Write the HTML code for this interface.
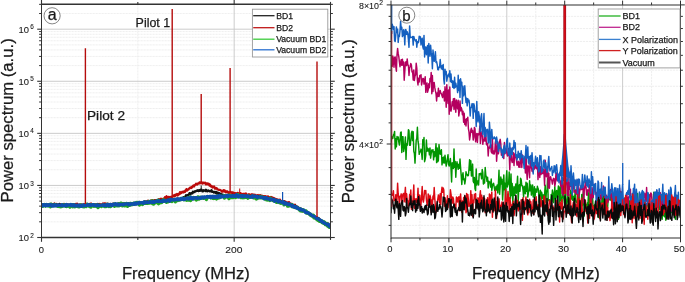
<!DOCTYPE html>
<html><head><meta charset="utf-8"><style>
html,body{margin:0;padding:0;background:#fff;}
svg{display:block;will-change:transform;}
text{font-family:"Liberation Sans", sans-serif;fill:#1a1a1a;stroke:#1a1a1a;stroke-width:0.25px;}
text.s{stroke-width:0.1px;}
</style></head><body>
<svg width="685" height="282" viewBox="0 0 685 282">
<clipPath id="ca"><rect x="41.5" y="4.3" width="289.0" height="233.2"/></clipPath>
<clipPath id="cb"><rect x="391.0" y="4.9" width="289.5" height="233.1"/></clipPath>
<line x1="41.5" x2="330.5" y1="221.82" y2="221.82" stroke="#ebebeb" stroke-width="0.8" stroke-dasharray="2.2,0.8"/>
<line x1="41.5" x2="330.5" y1="212.65" y2="212.65" stroke="#ebebeb" stroke-width="0.8" stroke-dasharray="2.2,0.8"/>
<line x1="41.5" x2="330.5" y1="206.15" y2="206.15" stroke="#ebebeb" stroke-width="0.8" stroke-dasharray="2.2,0.8"/>
<line x1="41.5" x2="330.5" y1="201.10" y2="201.10" stroke="#ebebeb" stroke-width="0.8" stroke-dasharray="2.2,0.8"/>
<line x1="41.5" x2="330.5" y1="196.98" y2="196.98" stroke="#ebebeb" stroke-width="0.8" stroke-dasharray="2.2,0.8"/>
<line x1="41.5" x2="330.5" y1="193.49" y2="193.49" stroke="#ebebeb" stroke-width="0.8" stroke-dasharray="2.2,0.8"/>
<line x1="41.5" x2="330.5" y1="190.47" y2="190.47" stroke="#ebebeb" stroke-width="0.8" stroke-dasharray="2.2,0.8"/>
<line x1="41.5" x2="330.5" y1="187.81" y2="187.81" stroke="#ebebeb" stroke-width="0.8" stroke-dasharray="2.2,0.8"/>
<line x1="41.5" x2="330.5" y1="169.75" y2="169.75" stroke="#ebebeb" stroke-width="0.8" stroke-dasharray="2.2,0.8"/>
<line x1="41.5" x2="330.5" y1="160.58" y2="160.58" stroke="#ebebeb" stroke-width="0.8" stroke-dasharray="2.2,0.8"/>
<line x1="41.5" x2="330.5" y1="154.07" y2="154.07" stroke="#ebebeb" stroke-width="0.8" stroke-dasharray="2.2,0.8"/>
<line x1="41.5" x2="330.5" y1="149.03" y2="149.03" stroke="#ebebeb" stroke-width="0.8" stroke-dasharray="2.2,0.8"/>
<line x1="41.5" x2="330.5" y1="144.90" y2="144.90" stroke="#ebebeb" stroke-width="0.8" stroke-dasharray="2.2,0.8"/>
<line x1="41.5" x2="330.5" y1="141.42" y2="141.42" stroke="#ebebeb" stroke-width="0.8" stroke-dasharray="2.2,0.8"/>
<line x1="41.5" x2="330.5" y1="138.40" y2="138.40" stroke="#ebebeb" stroke-width="0.8" stroke-dasharray="2.2,0.8"/>
<line x1="41.5" x2="330.5" y1="135.73" y2="135.73" stroke="#ebebeb" stroke-width="0.8" stroke-dasharray="2.2,0.8"/>
<line x1="41.5" x2="330.5" y1="117.67" y2="117.67" stroke="#ebebeb" stroke-width="0.8" stroke-dasharray="2.2,0.8"/>
<line x1="41.5" x2="330.5" y1="108.50" y2="108.50" stroke="#ebebeb" stroke-width="0.8" stroke-dasharray="2.2,0.8"/>
<line x1="41.5" x2="330.5" y1="102.00" y2="102.00" stroke="#ebebeb" stroke-width="0.8" stroke-dasharray="2.2,0.8"/>
<line x1="41.5" x2="330.5" y1="96.95" y2="96.95" stroke="#ebebeb" stroke-width="0.8" stroke-dasharray="2.2,0.8"/>
<line x1="41.5" x2="330.5" y1="92.83" y2="92.83" stroke="#ebebeb" stroke-width="0.8" stroke-dasharray="2.2,0.8"/>
<line x1="41.5" x2="330.5" y1="89.34" y2="89.34" stroke="#ebebeb" stroke-width="0.8" stroke-dasharray="2.2,0.8"/>
<line x1="41.5" x2="330.5" y1="86.32" y2="86.32" stroke="#ebebeb" stroke-width="0.8" stroke-dasharray="2.2,0.8"/>
<line x1="41.5" x2="330.5" y1="83.66" y2="83.66" stroke="#ebebeb" stroke-width="0.8" stroke-dasharray="2.2,0.8"/>
<line x1="41.5" x2="330.5" y1="65.60" y2="65.60" stroke="#ebebeb" stroke-width="0.8" stroke-dasharray="2.2,0.8"/>
<line x1="41.5" x2="330.5" y1="56.43" y2="56.43" stroke="#ebebeb" stroke-width="0.8" stroke-dasharray="2.2,0.8"/>
<line x1="41.5" x2="330.5" y1="49.92" y2="49.92" stroke="#ebebeb" stroke-width="0.8" stroke-dasharray="2.2,0.8"/>
<line x1="41.5" x2="330.5" y1="44.88" y2="44.88" stroke="#ebebeb" stroke-width="0.8" stroke-dasharray="2.2,0.8"/>
<line x1="41.5" x2="330.5" y1="40.75" y2="40.75" stroke="#ebebeb" stroke-width="0.8" stroke-dasharray="2.2,0.8"/>
<line x1="41.5" x2="330.5" y1="37.27" y2="37.27" stroke="#ebebeb" stroke-width="0.8" stroke-dasharray="2.2,0.8"/>
<line x1="41.5" x2="330.5" y1="34.25" y2="34.25" stroke="#ebebeb" stroke-width="0.8" stroke-dasharray="2.2,0.8"/>
<line x1="41.5" x2="330.5" y1="31.58" y2="31.58" stroke="#ebebeb" stroke-width="0.8" stroke-dasharray="2.2,0.8"/>
<line x1="41.5" x2="330.5" y1="13.52" y2="13.52" stroke="#ebebeb" stroke-width="0.8" stroke-dasharray="2.2,0.8"/>
<line x1="137.83" x2="137.83" y1="4.3" y2="237.5" stroke="#ebebeb" stroke-width="0.8" stroke-dasharray="2.2,0.8"/>
<line x1="41.5" x2="330.5" y1="185.43" y2="185.43" stroke="#c6c6c6" stroke-width="0.9"/>
<line x1="41.5" x2="330.5" y1="133.35" y2="133.35" stroke="#c6c6c6" stroke-width="0.9"/>
<line x1="41.5" x2="330.5" y1="81.27" y2="81.27" stroke="#c6c6c6" stroke-width="0.9"/>
<line x1="41.5" x2="330.5" y1="29.20" y2="29.20" stroke="#c6c6c6" stroke-width="0.9"/>
<line x1="234.17" x2="234.17" y1="4.3" y2="237.5" stroke="#c6c6c6" stroke-width="0.9"/>
<g clip-path="url(#ca)"><path d="M41.50,205.00 L42.00,205.16 L42.50,204.84 L43.00,204.49 L43.50,204.73 L44.00,204.43 L44.50,205.01 L45.00,205.71 L45.50,204.70 L46.00,204.62 L46.50,205.23 L47.00,205.15 L47.50,205.01 L48.00,204.44 L48.50,204.93 L49.00,205.32 L49.50,204.20 L50.00,204.68 L50.50,203.88 L51.00,204.21 L51.50,203.91 L52.00,204.79 L52.50,204.22 L53.00,205.06 L53.50,204.99 L54.00,204.80 L54.50,203.51 L55.00,204.60 L55.50,204.86 L56.00,204.95 L56.50,204.04 L57.00,204.62 L57.50,204.34 L58.00,204.43 L58.50,205.45 L59.00,204.42 L59.50,204.84 L60.00,205.34 L60.50,204.53 L61.00,204.79 L61.50,204.91 L62.00,204.88 L62.50,204.16 L63.00,204.87 L63.50,205.58 L64.00,203.97 L64.50,205.29 L65.00,204.88 L65.50,204.46 L66.00,205.91 L66.50,205.23 L67.00,204.14 L67.50,204.84 L68.00,205.11 L68.50,204.69 L69.00,205.16 L69.50,204.75 L70.00,205.15 L70.50,205.57 L71.00,204.40 L71.50,204.88 L72.00,204.51 L72.50,204.83 L73.00,204.10 L73.50,204.43 L74.00,204.64 L74.50,205.24 L75.00,205.37 L75.50,204.01 L76.00,204.30 L76.50,205.09 L77.00,203.63 L77.50,204.47 L78.00,204.67 L78.50,205.41 L79.00,205.09 L79.50,204.53 L80.00,204.50 L80.50,204.56 L81.00,205.53 L81.50,204.46 L82.00,204.52 L82.50,204.88 L83.00,204.61 L83.50,204.57 L84.00,204.06 L84.50,204.66 L85.00,204.42 L85.50,205.30 L86.00,205.02 L86.50,204.64 L87.00,205.02 L87.50,204.46 L88.00,205.22 L88.50,204.64 L89.00,204.96 L89.50,203.92 L90.00,204.82 L90.50,203.70 L91.00,203.50 L91.50,204.45 L92.00,204.12 L92.50,204.70 L93.00,205.84 L93.50,204.14 L94.00,204.25 L94.50,204.71 L95.00,204.86 L95.50,204.49 L96.00,204.47 L96.50,204.96 L97.00,204.86 L97.50,204.00 L98.00,204.52 L98.50,204.58 L99.00,203.98 L99.50,204.70 L100.00,204.08 L100.50,205.08 L101.00,204.65 L101.50,204.59 L102.00,204.21 L102.50,204.47 L103.00,203.43 L103.50,203.90 L104.00,204.72 L104.50,203.35 L105.00,204.98 L105.50,203.55 L106.00,204.92 L106.50,204.04 L107.00,204.93 L107.50,204.57 L108.00,203.65 L108.50,205.17 L109.00,205.28 L109.50,204.44 L110.00,204.33 L110.50,204.38 L111.00,203.93 L111.50,205.07 L112.00,204.16 L112.50,204.43 L113.00,204.02 L113.50,204.11 L114.00,203.74 L114.50,205.13 L115.00,204.35 L115.50,204.97 L116.00,204.44 L116.50,204.04 L117.00,204.24 L117.50,204.11 L118.00,204.42 L118.50,204.20 L119.00,204.24 L119.50,203.65 L120.00,203.96 L120.50,205.27 L121.00,203.96 L121.50,203.72 L122.00,204.45 L122.50,205.00 L123.00,203.39 L123.50,204.04 L124.00,203.77 L124.50,203.12 L125.00,204.45 L125.50,204.00 L126.00,204.02 L126.50,203.53 L127.00,204.16 L127.50,203.58 L128.00,203.76 L128.50,203.20 L129.00,203.10 L129.50,204.47 L130.00,203.42 L130.50,203.83 L131.00,203.61 L131.50,203.35 L132.00,203.28 L132.50,203.87 L133.00,203.32 L133.50,203.37 L134.00,203.43 L134.50,204.03 L135.00,203.72 L135.50,203.53 L136.00,202.97 L136.50,202.48 L137.00,203.73 L137.50,203.71 L138.00,203.06 L138.50,203.40 L139.00,203.50 L139.50,203.49 L140.00,203.51 L140.50,202.68 L141.00,203.69 L141.50,202.10 L142.00,203.19 L142.50,202.92 L143.00,203.06 L143.50,203.54 L144.00,203.26 L144.50,201.74 L145.00,201.37 L145.50,202.68 L146.00,201.60 L146.50,202.08 L147.00,202.48 L147.50,201.05 L148.00,200.72 L148.50,201.95 L149.00,201.76 L149.50,201.53 L150.00,201.62 L150.50,201.04 L151.00,200.59 L151.50,201.24 L152.00,200.71 L152.50,200.25 L153.00,201.34 L153.50,200.94 L154.00,201.10 L154.50,200.25 L155.00,200.34 L155.50,200.06 L156.00,200.03 L156.50,200.54 L157.00,199.91 L157.50,200.45 L158.00,200.35 L158.50,201.18 L159.00,199.21 L159.50,200.38 L160.00,199.75 L160.50,199.66 L161.00,198.74 L161.50,199.15 L162.00,199.68 L162.50,199.09 L163.00,199.04 L163.50,198.71 L164.00,199.37 L164.50,198.59 L165.00,197.26 L165.50,197.95 L166.00,197.12 L166.50,196.28 L167.00,197.64 L167.50,198.53 L168.00,197.69 L168.50,196.89 L169.00,196.88 L169.50,197.89 L170.00,197.22 L170.50,197.03 L171.00,196.84 L171.50,196.75 L172.00,197.04 L172.50,196.72 L173.00,196.34 L173.50,195.46 L174.00,196.13 L174.50,195.29 L175.00,196.08 L175.50,194.59 L176.00,195.02 L176.50,194.91 L177.00,194.00 L177.50,195.48 L178.00,195.15 L178.50,193.91 L179.00,194.40 L179.50,194.00 L180.00,192.16 L180.50,193.47 L181.00,193.03 L181.50,192.85 L182.00,191.94 L182.50,192.12 L183.00,191.90 L183.50,192.39 L184.00,191.65 L184.50,191.20 L185.00,191.77 L185.50,190.36 L186.00,190.19 L186.50,189.10 L187.00,190.66 L187.50,190.03 L188.00,189.70 L188.50,189.27 L189.00,188.66 L189.50,188.42 L190.00,187.86 L190.50,187.59 L191.00,187.43 L191.50,187.93 L192.00,187.11 L192.50,186.47 L193.00,185.88 L193.50,185.55 L194.00,186.48 L194.50,185.58 L195.00,185.04 L195.50,184.51 L196.00,183.79 L196.50,184.20 L197.00,184.55 L197.50,183.69 L198.00,183.62 L198.50,183.46 L199.00,183.48 L199.50,182.38 L200.00,182.96 L200.50,182.46 L201.00,183.25 L201.50,182.18 L202.00,183.00 L202.50,183.59 L203.00,182.66 L203.50,182.58 L204.00,183.09 L204.50,183.07 L205.00,182.60 L205.50,183.48 L206.00,184.41 L206.50,183.39 L207.00,183.65 L207.50,183.42 L208.00,184.40 L208.50,183.76 L209.00,184.07 L209.50,185.61 L210.00,184.64 L210.50,185.96 L211.00,186.44 L211.50,186.02 L212.00,186.46 L212.50,187.51 L213.00,186.61 L213.50,186.67 L214.00,186.53 L214.50,187.57 L215.00,188.64 L215.50,188.63 L216.00,187.87 L216.50,188.19 L217.00,188.67 L217.50,189.38 L218.00,189.39 L218.50,189.77 L219.00,189.96 L219.50,189.79 L220.00,190.08 L220.50,190.36 L221.00,190.35 L221.50,190.83 L222.00,191.73 L222.50,191.18 L223.00,191.03 L223.50,190.22 L224.00,191.51 L224.50,190.38 L225.00,190.83 L225.50,192.22 L226.00,192.29 L226.50,191.97 L227.00,191.26 L227.50,192.06 L228.00,191.97 L228.50,192.76 L229.00,193.72 L229.50,192.67 L230.00,192.19 L230.50,192.04 L231.00,192.72 L231.50,192.73 L232.00,192.26 L232.50,193.03 L233.00,192.40 L233.50,193.71 L234.00,193.75 L234.50,193.84 L235.00,193.05 L235.50,193.66 L236.00,193.37 L236.50,193.30 L237.00,193.40 L237.50,192.94 L238.00,192.93 L238.50,194.23 L239.00,193.76 L239.50,194.05 L240.00,194.55 L240.50,193.09 L241.00,193.66 L241.50,194.24 L242.00,194.40 L242.50,194.03 L243.00,194.85 L243.50,194.44 L244.00,193.71 L244.50,193.91 L245.00,194.91 L245.50,194.77 L246.00,193.52 L246.50,195.35 L247.00,194.98 L247.50,195.44 L248.00,194.54 L248.50,194.63 L249.00,194.22 L249.50,196.28 L250.00,194.84 L250.50,195.85 L251.00,194.67 L251.50,195.16 L252.00,194.20 L252.50,194.96 L253.00,195.75 L253.50,194.57 L254.00,195.90 L254.50,195.54 L255.00,194.83 L255.50,195.19 L256.00,195.27 L256.50,195.56 L257.00,195.35 L257.50,195.25 L258.00,195.60 L258.50,195.27 L259.00,195.18 L259.50,195.93 L260.00,196.50 L260.50,195.24 L261.00,196.14 L261.50,195.84 L262.00,195.72 L262.50,196.79 L263.00,196.10 L263.50,197.27 L264.00,196.08 L264.50,196.78 L265.00,196.51 L265.50,196.28 L266.00,197.08 L266.50,196.73 L267.00,197.21 L267.50,196.91 L268.00,196.40 L268.50,197.11 L269.00,197.36 L269.50,198.02 L270.00,197.16 L270.50,197.80 L271.00,197.04 L271.50,198.51 L272.00,197.72 L272.50,197.49 L273.00,198.61 L273.50,199.42 L274.00,198.13 L274.50,198.54 L275.00,198.89 L275.50,198.82 L276.00,199.78 L276.50,199.27 L277.00,199.45 L277.50,200.31 L278.00,199.71 L278.50,200.50 L279.00,199.87 L279.50,199.87 L280.00,199.67 L280.50,201.84 L281.00,200.77 L281.50,201.22 L282.00,201.21 L282.50,201.45 L283.00,201.53 L283.50,202.73 L284.00,201.29 L284.50,201.18 L285.00,201.66 L285.50,201.66 L286.00,202.99 L286.50,203.21 L287.00,202.40 L287.50,202.35 L288.00,203.10 L288.50,204.24 L289.00,202.10 L289.50,204.12 L290.00,203.42 L290.50,204.76 L291.00,203.77 L291.50,204.39 L292.00,203.90 L292.50,204.37 L293.00,205.85 L293.50,205.71 L294.00,205.22 L294.50,205.14 L295.00,204.76 L295.50,205.87 L296.00,206.36 L296.50,206.62 L297.00,206.90 L297.50,206.63 L298.00,207.50 L298.50,207.80 L299.00,208.82 L299.50,209.43 L300.00,208.61 L300.50,208.56 L301.00,209.23 L301.50,209.22 L302.00,209.44 L302.50,210.10 L303.00,209.85 L303.50,211.04 L304.00,210.94 L304.50,211.43 L305.00,211.48 L305.50,211.47 L306.00,211.63 L306.50,212.31 L307.00,212.43 L307.50,213.15 L308.00,213.31 L308.50,212.85 L309.00,213.93 L309.50,213.44 L310.00,214.13 L310.50,214.59 L311.00,213.90 L311.50,215.38 L312.00,215.71 L312.50,215.82 L313.00,215.97 L313.50,216.28 L314.00,216.24 L314.50,216.92 L315.00,217.05 L315.50,217.69 L316.00,217.27 L316.50,218.35 L317.00,218.59 L317.50,218.72 L318.00,218.85 L318.50,219.68 L319.00,218.75 L319.50,220.21 L320.00,220.38 L320.50,220.69 L321.00,221.03 L321.50,220.75 L322.00,221.26 L322.50,222.04 L323.00,222.21 L323.50,222.38 L324.00,221.72 L324.50,223.14 L325.00,223.78 L325.50,223.98 L326.00,223.84 L326.50,223.14 L327.00,224.81 L327.50,224.50 L328.00,223.47 L328.50,225.36 L329.00,224.62 L329.50,225.02 L330.00,225.67 L330.50,227.01" fill="none" stroke="#bb0a0a" stroke-width="2.3" stroke-linejoin="round" /><path d="M41.50,204.82 L42.00,205.15 L42.50,205.90 L43.00,205.83 L43.50,204.99 L44.00,204.93 L44.50,204.42 L45.00,204.72 L45.50,205.28 L46.00,205.28 L46.50,205.14 L47.00,205.59 L47.50,204.72 L48.00,205.08 L48.50,205.48 L49.00,205.42 L49.50,205.67 L50.00,205.34 L50.50,205.00 L51.00,205.34 L51.50,204.66 L52.00,204.35 L52.50,205.47 L53.00,205.16 L53.50,205.35 L54.00,204.36 L54.50,205.03 L55.00,204.92 L55.50,204.80 L56.00,204.11 L56.50,205.08 L57.00,205.70 L57.50,205.45 L58.00,204.97 L58.50,205.27 L59.00,205.66 L59.50,203.91 L60.00,205.24 L60.50,205.57 L61.00,205.65 L61.50,206.16 L62.00,205.88 L62.50,205.47 L63.00,205.47 L63.50,205.71 L64.00,205.05 L64.50,205.30 L65.00,205.78 L65.50,206.31 L66.00,205.25 L66.50,205.31 L67.00,205.43 L67.50,206.01 L68.00,205.32 L68.50,206.08 L69.00,204.86 L69.50,205.25 L70.00,205.25 L70.50,205.75 L71.00,205.88 L71.50,204.60 L72.00,204.90 L72.50,205.53 L73.00,205.04 L73.50,204.61 L74.00,205.89 L74.50,205.62 L75.00,205.62 L75.50,205.14 L76.00,205.89 L76.50,205.26 L77.00,205.93 L77.50,204.93 L78.00,204.96 L78.50,205.49 L79.00,205.04 L79.50,205.74 L80.00,205.53 L80.50,204.93 L81.00,205.42 L81.50,205.20 L82.00,205.83 L82.50,205.05 L83.00,205.14 L83.50,205.95 L84.00,206.46 L84.50,206.33 L85.00,205.36 L85.50,205.43 L86.00,206.08 L86.50,205.24 L87.00,204.81 L87.50,205.35 L88.00,205.51 L88.50,204.86 L89.00,204.44 L89.50,204.54 L90.00,205.58 L90.50,204.86 L91.00,205.16 L91.50,205.33 L92.00,205.53 L92.50,205.05 L93.00,205.45 L93.50,204.75 L94.00,205.01 L94.50,204.67 L95.00,205.74 L95.50,205.15 L96.00,204.79 L96.50,204.98 L97.00,205.03 L97.50,205.49 L98.00,204.33 L98.50,204.60 L99.00,204.93 L99.50,206.37 L100.00,205.58 L100.50,205.03 L101.00,205.43 L101.50,206.09 L102.00,204.93 L102.50,204.85 L103.00,205.62 L103.50,205.25 L104.00,205.32 L104.50,204.72 L105.00,205.92 L105.50,205.80 L106.00,205.22 L106.50,205.26 L107.00,203.89 L107.50,205.21 L108.00,204.78 L108.50,205.08 L109.00,205.19 L109.50,204.67 L110.00,203.98 L110.50,204.99 L111.00,204.42 L111.50,204.62 L112.00,204.46 L112.50,204.58 L113.00,203.58 L113.50,205.33 L114.00,204.84 L114.50,205.25 L115.00,205.67 L115.50,204.68 L116.00,203.75 L116.50,204.19 L117.00,204.02 L117.50,204.36 L118.00,204.64 L118.50,203.57 L119.00,204.70 L119.50,203.74 L120.00,204.62 L120.50,204.38 L121.00,204.24 L121.50,204.33 L122.00,204.06 L122.50,203.99 L123.00,203.43 L123.50,204.22 L124.00,205.12 L124.50,205.16 L125.00,204.79 L125.50,204.45 L126.00,203.73 L126.50,204.75 L127.00,203.97 L127.50,203.93 L128.00,203.79 L128.50,203.95 L129.00,203.65 L129.50,203.79 L130.00,203.26 L130.50,203.58 L131.00,204.87 L131.50,203.67 L132.00,203.55 L132.50,203.90 L133.00,203.95 L133.50,203.01 L134.00,203.43 L134.50,203.96 L135.00,203.60 L135.50,203.49 L136.00,204.18 L136.50,203.02 L137.00,203.36 L137.50,203.01 L138.00,203.97 L138.50,202.21 L139.00,202.81 L139.50,202.84 L140.00,203.39 L140.50,203.32 L141.00,203.67 L141.50,202.14 L142.00,203.26 L142.50,202.70 L143.00,202.47 L143.50,203.03 L144.00,202.25 L144.50,201.63 L145.00,202.44 L145.50,201.84 L146.00,202.22 L146.50,202.69 L147.00,202.61 L147.50,203.21 L148.00,202.27 L148.50,201.56 L149.00,201.91 L149.50,201.78 L150.00,201.59 L150.50,202.37 L151.00,201.78 L151.50,201.06 L152.00,202.35 L152.50,201.89 L153.00,202.08 L153.50,201.90 L154.00,202.12 L154.50,201.77 L155.00,202.32 L155.50,201.86 L156.00,201.80 L156.50,201.75 L157.00,200.77 L157.50,201.37 L158.00,201.27 L158.50,201.45 L159.00,200.62 L159.50,202.07 L160.00,201.25 L160.50,200.54 L161.00,200.25 L161.50,200.91 L162.00,200.96 L162.50,200.59 L163.00,200.95 L163.50,200.53 L164.00,201.08 L164.50,200.39 L165.00,200.68 L165.50,201.14 L166.00,201.89 L166.50,200.05 L167.00,200.27 L167.50,200.03 L168.00,200.79 L168.50,199.78 L169.00,200.06 L169.50,200.24 L170.00,199.71 L170.50,199.67 L171.00,199.86 L171.50,199.00 L172.00,199.28 L172.50,199.74 L173.00,199.97 L173.50,199.76 L174.00,198.91 L174.50,199.52 L175.00,200.10 L175.50,199.93 L176.00,199.56 L176.50,199.11 L177.00,199.82 L177.50,199.16 L178.00,198.82 L178.50,198.95 L179.00,200.02 L179.50,199.36 L180.00,199.78 L180.50,198.72 L181.00,199.19 L181.50,198.18 L182.00,198.16 L182.50,199.24 L183.00,198.14 L183.50,197.27 L184.00,197.24 L184.50,197.20 L185.00,197.41 L185.50,196.22 L186.00,195.25 L186.50,195.64 L187.00,195.45 L187.50,195.15 L188.00,195.42 L188.50,194.58 L189.00,194.49 L189.50,193.19 L190.00,193.83 L190.50,194.26 L191.00,193.40 L191.50,192.95 L192.00,192.71 L192.50,193.34 L193.00,191.79 L193.50,192.00 L194.00,192.10 L194.50,192.05 L195.00,191.26 L195.50,191.45 L196.00,190.96 L196.50,191.07 L197.00,190.85 L197.50,190.26 L198.00,190.73 L198.50,191.09 L199.00,190.08 L199.50,190.35 L200.00,190.71 L200.50,189.76 L201.00,190.29 L201.50,189.69 L202.00,190.81 L202.50,191.42 L203.00,191.29 L203.50,190.19 L204.00,190.69 L204.50,190.40 L205.00,190.41 L205.50,191.15 L206.00,189.74 L206.50,191.00 L207.00,190.52 L207.50,191.31 L208.00,190.77 L208.50,190.41 L209.00,190.96 L209.50,191.26 L210.00,190.98 L210.50,191.27 L211.00,190.84 L211.50,190.18 L212.00,191.85 L212.50,191.90 L213.00,191.77 L213.50,191.88 L214.00,192.52 L214.50,191.92 L215.00,191.95 L215.50,192.36 L216.00,193.19 L216.50,192.06 L217.00,193.50 L217.50,192.73 L218.00,192.65 L218.50,194.01 L219.00,193.52 L219.50,193.10 L220.00,193.75 L220.50,194.58 L221.00,194.90 L221.50,194.27 L222.00,194.87 L222.50,195.21 L223.00,194.71 L223.50,195.39 L224.00,195.38 L224.50,195.21 L225.00,195.30 L225.50,195.66 L226.00,195.71 L226.50,195.49 L227.00,195.64 L227.50,196.48 L228.00,196.17 L228.50,196.50 L229.00,196.65 L229.50,196.33 L230.00,197.17 L230.50,195.61 L231.00,196.42 L231.50,195.85 L232.00,196.93 L232.50,196.85 L233.00,195.02 L233.50,195.50 L234.00,196.31 L234.50,196.37 L235.00,196.33 L235.50,195.92 L236.00,196.18 L236.50,196.27 L237.00,195.90 L237.50,196.45 L238.00,194.80 L238.50,196.24 L239.00,195.40 L239.50,196.39 L240.00,195.79 L240.50,195.48 L241.00,196.14 L241.50,195.52 L242.00,195.55 L242.50,195.25 L243.00,196.05 L243.50,196.34 L244.00,196.62 L244.50,196.07 L245.00,196.69 L245.50,196.20 L246.00,196.17 L246.50,196.53 L247.00,196.80 L247.50,196.13 L248.00,196.20 L248.50,196.27 L249.00,196.42 L249.50,195.96 L250.00,196.95 L250.50,196.26 L251.00,196.72 L251.50,196.10 L252.00,196.72 L252.50,196.76 L253.00,196.38 L253.50,197.63 L254.00,196.83 L254.50,197.56 L255.00,197.18 L255.50,196.44 L256.00,196.65 L256.50,197.13 L257.00,197.01 L257.50,197.07 L258.00,196.98 L258.50,196.29 L259.00,197.15 L259.50,196.22 L260.00,197.59 L260.50,197.11 L261.00,197.18 L261.50,197.50 L262.00,197.82 L262.50,197.03 L263.00,196.95 L263.50,197.36 L264.00,196.94 L264.50,197.55 L265.00,198.90 L265.50,197.68 L266.00,198.65 L266.50,197.74 L267.00,198.69 L267.50,198.49 L268.00,198.73 L268.50,199.15 L269.00,199.86 L269.50,199.19 L270.00,199.26 L270.50,198.82 L271.00,199.71 L271.50,199.41 L272.00,200.06 L272.50,199.73 L273.00,200.73 L273.50,198.98 L274.00,199.93 L274.50,200.63 L275.00,200.12 L275.50,200.04 L276.00,200.44 L276.50,200.02 L277.00,200.91 L277.50,202.21 L278.00,201.70 L278.50,200.71 L279.00,200.96 L279.50,201.34 L280.00,202.18 L280.50,201.40 L281.00,201.60 L281.50,202.53 L282.00,202.66 L282.50,202.18 L283.00,201.94 L283.50,201.90 L284.00,202.50 L284.50,201.91 L285.00,203.57 L285.50,203.06 L286.00,203.79 L286.50,204.66 L287.00,204.49 L287.50,203.50 L288.00,204.68 L288.50,205.00 L289.00,204.23 L289.50,204.30 L290.00,204.90 L290.50,204.32 L291.00,206.04 L291.50,204.27 L292.00,205.10 L292.50,205.69 L293.00,205.89 L293.50,206.26 L294.00,206.49 L294.50,206.42 L295.00,207.27 L295.50,205.86 L296.00,207.16 L296.50,207.03 L297.00,207.69 L297.50,207.96 L298.00,207.62 L298.50,207.99 L299.00,208.94 L299.50,208.94 L300.00,208.66 L300.50,210.25 L301.00,210.61 L301.50,208.96 L302.00,210.07 L302.50,211.40 L303.00,210.77 L303.50,210.72 L304.00,210.74 L304.50,210.80 L305.00,211.19 L305.50,211.31 L306.00,212.25 L306.50,211.97 L307.00,212.24 L307.50,212.15 L308.00,213.02 L308.50,212.88 L309.00,213.53 L309.50,214.43 L310.00,214.38 L310.50,214.74 L311.00,214.96 L311.50,215.10 L312.00,215.30 L312.50,215.50 L313.00,216.32 L313.50,215.69 L314.00,217.19 L314.50,216.83 L315.00,216.73 L315.50,217.17 L316.00,217.38 L316.50,218.11 L317.00,217.98 L317.50,219.22 L318.00,218.57 L318.50,218.13 L319.00,219.21 L319.50,218.89 L320.00,220.18 L320.50,221.04 L321.00,221.14 L321.50,220.46 L322.00,221.06 L322.50,222.64 L323.00,222.22 L323.50,222.37 L324.00,223.21 L324.50,224.22 L325.00,223.95 L325.50,223.71 L326.00,224.16 L326.50,224.63 L327.00,224.36 L327.50,224.48 L328.00,225.38 L328.50,225.22 L329.00,226.00 L329.50,226.42 L330.00,227.89 L330.50,226.63" fill="none" stroke="#111111" stroke-width="2.3" stroke-linejoin="round" /><path d="M41.50,205.42 L42.00,205.40 L42.50,205.83 L43.00,206.26 L43.50,205.20 L44.00,204.97 L44.50,204.41 L45.00,204.91 L45.50,205.95 L46.00,205.61 L46.50,204.88 L47.00,205.33 L47.50,205.62 L48.00,205.96 L48.50,205.20 L49.00,205.45 L49.50,204.36 L50.00,204.84 L50.50,206.78 L51.00,204.13 L51.50,205.43 L52.00,205.83 L52.50,205.42 L53.00,205.12 L53.50,205.65 L54.00,205.70 L54.50,205.66 L55.00,204.41 L55.50,205.63 L56.00,205.14 L56.50,205.36 L57.00,205.91 L57.50,206.21 L58.00,206.40 L58.50,205.43 L59.00,206.43 L59.50,206.61 L60.00,206.60 L60.50,206.78 L61.00,205.70 L61.50,205.69 L62.00,206.39 L62.50,204.86 L63.00,205.96 L63.50,205.45 L64.00,205.56 L64.50,204.60 L65.00,205.20 L65.50,205.81 L66.00,206.45 L66.50,206.53 L67.00,205.78 L67.50,205.70 L68.00,205.26 L68.50,206.12 L69.00,205.67 L69.50,206.27 L70.00,207.08 L70.50,205.83 L71.00,204.81 L71.50,205.25 L72.00,204.84 L72.50,205.02 L73.00,206.78 L73.50,206.03 L74.00,204.81 L74.50,206.33 L75.00,206.76 L75.50,205.63 L76.00,205.41 L76.50,205.65 L77.00,206.08 L77.50,206.34 L78.00,206.72 L78.50,206.74 L79.00,206.72 L79.50,206.85 L80.00,206.36 L80.50,204.82 L81.00,205.79 L81.50,206.10 L82.00,205.60 L82.50,206.50 L83.00,205.60 L83.50,205.20 L84.00,206.85 L84.50,206.30 L85.00,205.98 L85.50,206.47 L86.00,206.55 L86.50,206.04 L87.00,204.07 L87.50,205.31 L88.00,205.46 L88.50,205.08 L89.00,205.90 L89.50,206.59 L90.00,205.41 L90.50,204.95 L91.00,207.15 L91.50,205.41 L92.00,204.86 L92.50,205.88 L93.00,206.00 L93.50,205.20 L94.00,206.24 L94.50,205.34 L95.00,205.03 L95.50,205.79 L96.00,206.20 L96.50,205.21 L97.00,205.88 L97.50,205.57 L98.00,207.61 L98.50,205.13 L99.00,206.58 L99.50,205.57 L100.00,205.51 L100.50,206.09 L101.00,206.20 L101.50,206.45 L102.00,205.77 L102.50,205.11 L103.00,205.14 L103.50,205.86 L104.00,205.90 L104.50,206.45 L105.00,205.75 L105.50,206.19 L106.00,206.50 L106.50,205.53 L107.00,204.37 L107.50,204.57 L108.00,204.37 L108.50,206.48 L109.00,204.76 L109.50,206.20 L110.00,205.73 L110.50,206.51 L111.00,206.00 L111.50,205.21 L112.00,205.13 L112.50,205.31 L113.00,205.36 L113.50,204.85 L114.00,205.19 L114.50,206.32 L115.00,203.99 L115.50,205.35 L116.00,204.52 L116.50,205.27 L117.00,205.72 L117.50,205.07 L118.00,205.64 L118.50,203.95 L119.00,205.81 L119.50,204.58 L120.00,205.40 L120.50,205.06 L121.00,203.09 L121.50,204.34 L122.00,204.99 L122.50,205.89 L123.00,204.97 L123.50,204.91 L124.00,203.71 L124.50,205.67 L125.00,205.90 L125.50,204.62 L126.00,204.41 L126.50,203.40 L127.00,205.12 L127.50,206.36 L128.00,204.94 L128.50,205.28 L129.00,204.75 L129.50,203.64 L130.00,205.24 L130.50,203.40 L131.00,204.09 L131.50,204.40 L132.00,204.78 L132.50,204.42 L133.00,204.37 L133.50,203.53 L134.00,203.13 L134.50,204.04 L135.00,203.47 L135.50,203.02 L136.00,203.01 L136.50,203.51 L137.00,202.52 L137.50,202.83 L138.00,202.58 L138.50,203.81 L139.00,203.93 L139.50,205.00 L140.00,202.51 L140.50,203.04 L141.00,204.11 L141.50,203.28 L142.00,203.16 L142.50,204.54 L143.00,203.06 L143.50,202.45 L144.00,202.29 L144.50,203.41 L145.00,203.34 L145.50,202.13 L146.00,202.35 L146.50,203.37 L147.00,203.36 L147.50,202.46 L148.00,203.31 L148.50,203.23 L149.00,201.54 L149.50,202.52 L150.00,202.99 L150.50,202.25 L151.00,201.10 L151.50,202.35 L152.00,203.03 L152.50,203.56 L153.00,200.87 L153.50,204.18 L154.00,201.51 L154.50,202.92 L155.00,203.06 L155.50,202.84 L156.00,202.20 L156.50,201.24 L157.00,202.44 L157.50,201.45 L158.00,200.13 L158.50,203.83 L159.00,202.30 L159.50,203.02 L160.00,201.06 L160.50,202.68 L161.00,202.71 L161.50,202.64 L162.00,201.49 L162.50,200.61 L163.00,201.28 L163.50,199.81 L164.00,200.11 L164.50,201.31 L165.00,200.51 L165.50,201.03 L166.00,201.02 L166.50,202.40 L167.00,201.91 L167.50,200.92 L168.00,201.75 L168.50,200.30 L169.00,200.56 L169.50,201.39 L170.00,199.83 L170.50,200.45 L171.00,199.68 L171.50,200.63 L172.00,201.64 L172.50,199.92 L173.00,200.56 L173.50,199.72 L174.00,199.50 L174.50,199.38 L175.00,201.22 L175.50,201.80 L176.00,200.44 L176.50,199.55 L177.00,200.49 L177.50,199.72 L178.00,200.46 L178.50,200.05 L179.00,200.00 L179.50,200.18 L180.00,199.29 L180.50,199.37 L181.00,198.41 L181.50,199.26 L182.00,198.53 L182.50,199.38 L183.00,198.77 L183.50,199.47 L184.00,199.67 L184.50,198.32 L185.00,198.70 L185.50,198.56 L186.00,199.70 L186.50,200.33 L187.00,199.69 L187.50,198.81 L188.00,200.03 L188.50,197.90 L189.00,199.97 L189.50,198.42 L190.00,196.89 L190.50,200.65 L191.00,199.85 L191.50,197.98 L192.00,198.78 L192.50,198.47 L193.00,198.64 L193.50,197.49 L194.00,198.01 L194.50,198.77 L195.00,198.56 L195.50,199.21 L196.00,198.39 L196.50,199.94 L197.00,197.77 L197.50,198.41 L198.00,196.86 L198.50,197.29 L199.00,199.06 L199.50,197.44 L200.00,198.44 L200.50,197.99 L201.00,197.27 L201.50,197.72 L202.00,197.57 L202.50,197.56 L203.00,198.39 L203.50,198.29 L204.00,197.40 L204.50,197.13 L205.00,197.93 L205.50,197.63 L206.00,198.39 L206.50,199.49 L207.00,198.19 L207.50,197.54 L208.00,197.41 L208.50,196.90 L209.00,196.83 L209.50,196.73 L210.00,197.12 L210.50,197.07 L211.00,197.87 L211.50,197.04 L212.00,197.16 L212.50,196.41 L213.00,198.39 L213.50,197.57 L214.00,198.44 L214.50,197.72 L215.00,198.18 L215.50,196.93 L216.00,197.58 L216.50,198.95 L217.00,196.17 L217.50,197.82 L218.00,198.16 L218.50,197.24 L219.00,197.46 L219.50,197.79 L220.00,196.40 L220.50,197.13 L221.00,196.19 L221.50,196.30 L222.00,196.32 L222.50,196.63 L223.00,196.81 L223.50,197.00 L224.00,195.64 L224.50,198.05 L225.00,197.43 L225.50,197.11 L226.00,196.33 L226.50,196.52 L227.00,196.97 L227.50,196.86 L228.00,195.36 L228.50,197.08 L229.00,198.64 L229.50,195.21 L230.00,197.25 L230.50,196.79 L231.00,196.44 L231.50,197.50 L232.00,195.66 L232.50,196.62 L233.00,197.54 L233.50,196.35 L234.00,196.18 L234.50,196.56 L235.00,196.15 L235.50,197.57 L236.00,195.80 L236.50,197.07 L237.00,195.54 L237.50,196.91 L238.00,196.35 L238.50,194.56 L239.00,196.41 L239.50,195.64 L240.00,196.08 L240.50,197.53 L241.00,195.65 L241.50,195.72 L242.00,197.54 L242.50,196.62 L243.00,197.67 L243.50,196.82 L244.00,195.98 L244.50,196.59 L245.00,197.55 L245.50,197.37 L246.00,196.72 L246.50,196.78 L247.00,196.69 L247.50,196.38 L248.00,198.22 L248.50,196.86 L249.00,196.07 L249.50,196.56 L250.00,197.46 L250.50,197.42 L251.00,196.89 L251.50,196.53 L252.00,197.06 L252.50,195.86 L253.00,196.16 L253.50,197.69 L254.00,196.80 L254.50,197.44 L255.00,198.08 L255.50,197.74 L256.00,197.35 L256.50,198.94 L257.00,197.96 L257.50,197.29 L258.00,198.15 L258.50,197.98 L259.00,197.14 L259.50,197.88 L260.00,197.78 L260.50,196.55 L261.00,197.92 L261.50,197.91 L262.00,197.86 L262.50,197.07 L263.00,198.06 L263.50,198.36 L264.00,198.53 L264.50,197.71 L265.00,199.06 L265.50,197.84 L266.00,198.66 L266.50,199.87 L267.00,198.54 L267.50,198.78 L268.00,200.03 L268.50,199.09 L269.00,199.27 L269.50,199.75 L270.00,200.45 L270.50,198.22 L271.00,199.32 L271.50,199.31 L272.00,199.36 L272.50,199.64 L273.00,199.76 L273.50,200.69 L274.00,199.94 L274.50,200.78 L275.00,201.09 L275.50,200.41 L276.00,201.17 L276.50,202.39 L277.00,201.58 L277.50,201.03 L278.00,201.58 L278.50,201.11 L279.00,202.09 L279.50,202.66 L280.00,201.59 L280.50,202.16 L281.00,203.25 L281.50,202.23 L282.00,202.86 L282.50,202.13 L283.00,202.41 L283.50,202.81 L284.00,204.87 L284.50,203.24 L285.00,203.33 L285.50,203.48 L286.00,203.93 L286.50,204.68 L287.00,204.53 L287.50,206.02 L288.00,204.90 L288.50,205.94 L289.00,205.29 L289.50,205.70 L290.00,204.44 L290.50,205.54 L291.00,205.75 L291.50,205.80 L292.00,204.64 L292.50,206.94 L293.00,206.23 L293.50,206.37 L294.00,206.67 L294.50,206.87 L295.00,207.48 L295.50,206.54 L296.00,207.01 L296.50,208.09 L297.00,208.22 L297.50,208.09 L298.00,208.18 L298.50,208.23 L299.00,209.00 L299.50,210.10 L300.00,208.76 L300.50,210.80 L301.00,210.55 L301.50,209.87 L302.00,210.97 L302.50,209.62 L303.00,209.67 L303.50,210.21 L304.00,211.05 L304.50,211.34 L305.00,211.44 L305.50,212.16 L306.00,210.89 L306.50,213.02 L307.00,211.97 L307.50,212.79 L308.00,213.25 L308.50,213.02 L309.00,213.16 L309.50,213.71 L310.00,214.69 L310.50,215.40 L311.00,215.67 L311.50,214.87 L312.00,215.31 L312.50,215.51 L313.00,216.75 L313.50,215.30 L314.00,217.89 L314.50,216.97 L315.00,217.05 L315.50,218.15 L316.00,218.94 L316.50,218.77 L317.00,219.58 L317.50,219.24 L318.00,220.32 L318.50,220.64 L319.00,220.01 L319.50,221.40 L320.00,220.82 L320.50,221.07 L321.00,220.67 L321.50,221.43 L322.00,222.48 L322.50,221.33 L323.00,223.01 L323.50,223.11 L324.00,223.37 L324.50,221.95 L325.00,223.73 L325.50,224.60 L326.00,223.95 L326.50,224.89 L327.00,223.50 L327.50,225.98 L328.00,225.39 L328.50,226.80 L329.00,225.24 L329.50,227.36 L330.00,227.05 L330.50,228.12" fill="none" stroke="#22a722" stroke-width="3.3" stroke-linejoin="round" /><path d="M41.50,204.59 L42.00,204.74 L42.50,206.03 L43.00,204.66 L43.50,204.72 L44.00,204.92 L44.50,204.60 L45.00,205.60 L45.50,205.85 L46.00,204.76 L46.50,204.31 L47.00,205.62 L47.50,205.60 L48.00,205.48 L48.50,205.64 L49.00,204.74 L49.50,205.06 L50.00,204.52 L50.50,204.51 L51.00,205.60 L51.50,204.86 L52.00,206.20 L52.50,205.21 L53.00,204.90 L53.50,205.56 L54.00,206.02 L54.50,205.43 L55.00,204.67 L55.50,205.40 L56.00,205.86 L56.50,205.02 L57.00,204.90 L57.50,205.72 L58.00,205.33 L58.50,204.78 L59.00,205.11 L59.50,204.95 L60.00,205.43 L60.50,205.35 L61.00,205.82 L61.50,205.63 L62.00,204.61 L62.50,205.50 L63.00,205.72 L63.50,205.52 L64.00,205.78 L64.50,205.08 L65.00,204.90 L65.50,205.75 L66.00,204.85 L66.50,204.36 L67.00,205.80 L67.50,205.01 L68.00,205.20 L68.50,204.71 L69.00,204.75 L69.50,204.83 L70.00,205.19 L70.50,205.52 L71.00,204.32 L71.50,205.70 L72.00,204.83 L72.50,204.88 L73.00,205.67 L73.50,205.33 L74.00,204.68 L74.50,206.20 L75.00,204.99 L75.50,205.49 L76.00,205.47 L76.50,206.02 L77.00,205.18 L77.50,205.84 L78.00,205.06 L78.50,205.90 L79.00,205.05 L79.50,205.23 L80.00,206.25 L80.50,205.54 L81.00,205.43 L81.50,206.39 L82.00,205.53 L82.50,205.00 L83.00,205.69 L83.50,204.82 L84.00,205.85 L84.50,205.88 L85.00,205.07 L85.50,205.03 L86.00,205.39 L86.50,205.31 L87.00,204.86 L87.50,205.54 L88.00,204.36 L88.50,205.08 L89.00,205.08 L89.50,205.13 L90.00,205.39 L90.50,204.69 L91.00,205.50 L91.50,205.15 L92.00,204.93 L92.50,204.60 L93.00,204.67 L93.50,205.36 L94.00,204.76 L94.50,205.21 L95.00,205.65 L95.50,205.63 L96.00,205.86 L96.50,205.02 L97.00,204.66 L97.50,205.60 L98.00,205.27 L98.50,205.63 L99.00,205.12 L99.50,205.65 L100.00,205.48 L100.50,205.41 L101.00,205.30 L101.50,205.24 L102.00,205.15 L102.50,205.13 L103.00,205.46 L103.50,204.77 L104.00,205.77 L104.50,204.93 L105.00,205.40 L105.50,204.91 L106.00,204.82 L106.50,205.83 L107.00,204.77 L107.50,204.32 L108.00,204.56 L108.50,204.72 L109.00,205.82 L109.50,204.93 L110.00,205.24 L110.50,204.36 L111.00,204.95 L111.50,205.08 L112.00,205.58 L112.50,204.44 L113.00,205.01 L113.50,204.86 L114.00,204.25 L114.50,204.69 L115.00,204.56 L115.50,203.62 L116.00,204.92 L116.50,204.88 L117.00,204.43 L117.50,204.01 L118.00,205.27 L118.50,204.69 L119.00,204.99 L119.50,205.13 L120.00,204.23 L120.50,204.80 L121.00,204.29 L121.50,204.34 L122.00,204.29 L122.50,204.30 L123.00,204.77 L123.50,204.29 L124.00,204.13 L124.50,204.04 L125.00,204.29 L125.50,203.70 L126.00,203.84 L126.50,204.01 L127.00,203.75 L127.50,203.91 L128.00,203.66 L128.50,204.80 L129.00,204.46 L129.50,204.04 L130.00,203.78 L130.50,204.75 L131.00,203.88 L131.50,203.66 L132.00,203.80 L132.50,203.77 L133.00,204.23 L133.50,203.56 L134.00,204.48 L134.50,203.10 L135.00,203.78 L135.50,202.98 L136.00,204.22 L136.50,203.21 L137.00,203.29 L137.50,203.69 L138.00,203.79 L138.50,202.69 L139.00,202.99 L139.50,202.47 L140.00,203.12 L140.50,202.97 L141.00,202.81 L141.50,202.62 L142.00,202.71 L142.50,202.51 L143.00,203.04 L143.50,203.44 L144.00,201.85 L144.50,202.62 L145.00,202.44 L145.50,202.81 L146.00,202.11 L146.50,202.43 L147.00,201.99 L147.50,202.73 L148.00,202.42 L148.50,202.26 L149.00,202.45 L149.50,202.13 L150.00,201.50 L150.50,202.42 L151.00,202.23 L151.50,201.98 L152.00,202.44 L152.50,202.50 L153.00,201.41 L153.50,201.50 L154.00,202.50 L154.50,202.39 L155.00,201.37 L155.50,201.12 L156.00,201.31 L156.50,201.33 L157.00,200.79 L157.50,201.46 L158.00,200.82 L158.50,200.81 L159.00,201.71 L159.50,200.94 L160.00,201.17 L160.50,201.43 L161.00,201.47 L161.50,200.90 L162.00,201.02 L162.50,200.58 L163.00,201.69 L163.50,201.14 L164.00,200.30 L164.50,200.75 L165.00,201.02 L165.50,200.87 L166.00,201.42 L166.50,201.17 L167.00,200.26 L167.50,200.41 L168.00,199.82 L168.50,200.46 L169.00,200.37 L169.50,201.47 L170.00,200.24 L170.50,199.21 L171.00,199.80 L171.50,200.10 L172.00,199.43 L172.50,199.56 L173.00,199.74 L173.50,200.00 L174.00,199.73 L174.50,199.35 L175.00,200.05 L175.50,199.41 L176.00,199.38 L176.50,198.93 L177.00,199.15 L177.50,199.74 L178.00,198.67 L178.50,199.32 L179.00,199.62 L179.50,199.08 L180.00,199.31 L180.50,198.65 L181.00,199.70 L181.50,199.57 L182.00,199.13 L182.50,198.19 L183.00,198.47 L183.50,199.34 L184.00,199.62 L184.50,198.94 L185.00,199.33 L185.50,198.45 L186.00,198.59 L186.50,198.64 L187.00,198.78 L187.50,197.86 L188.00,198.93 L188.50,199.06 L189.00,197.90 L189.50,197.77 L190.00,198.49 L190.50,198.00 L191.00,197.18 L191.50,198.57 L192.00,198.23 L192.50,197.90 L193.00,199.02 L193.50,198.09 L194.00,197.65 L194.50,197.99 L195.00,197.43 L195.50,197.52 L196.00,198.01 L196.50,197.55 L197.00,197.56 L197.50,198.48 L198.00,198.09 L198.50,198.03 L199.00,197.87 L199.50,197.82 L200.00,198.22 L200.50,197.52 L201.00,198.33 L201.50,197.04 L202.00,197.32 L202.50,196.78 L203.00,197.21 L203.50,197.57 L204.00,197.95 L204.50,196.97 L205.00,197.24 L205.50,197.04 L206.00,196.83 L206.50,196.60 L207.00,197.13 L207.50,196.29 L208.00,197.08 L208.50,197.01 L209.00,196.67 L209.50,196.48 L210.00,196.28 L210.50,197.72 L211.00,196.24 L211.50,197.52 L212.00,197.06 L212.50,196.60 L213.00,196.22 L213.50,197.18 L214.00,197.47 L214.50,196.24 L215.00,196.50 L215.50,197.08 L216.00,196.73 L216.50,197.45 L217.00,196.27 L217.50,196.74 L218.00,195.91 L218.50,197.39 L219.00,196.09 L219.50,195.40 L220.00,196.31 L220.50,196.28 L221.00,197.18 L221.50,196.13 L222.00,196.25 L222.50,196.50 L223.00,196.92 L223.50,196.15 L224.00,196.62 L224.50,196.36 L225.00,195.97 L225.50,196.13 L226.00,196.10 L226.50,195.67 L227.00,196.62 L227.50,195.44 L228.00,196.59 L228.50,196.48 L229.00,196.00 L229.50,195.70 L230.00,195.93 L230.50,196.24 L231.00,196.35 L231.50,196.14 L232.00,196.45 L232.50,195.75 L233.00,196.10 L233.50,195.28 L234.00,196.32 L234.50,196.04 L235.00,195.78 L235.50,196.48 L236.00,196.26 L236.50,194.68 L237.00,195.96 L237.50,195.28 L238.00,196.41 L238.50,197.04 L239.00,195.68 L239.50,195.94 L240.00,195.79 L240.50,196.08 L241.00,196.24 L241.50,196.56 L242.00,195.56 L242.50,196.74 L243.00,195.64 L243.50,196.21 L244.00,196.63 L244.50,196.46 L245.00,195.74 L245.50,195.88 L246.00,196.01 L246.50,196.22 L247.00,196.79 L247.50,195.72 L248.00,196.54 L248.50,196.63 L249.00,196.63 L249.50,196.62 L250.00,197.12 L250.50,196.68 L251.00,196.87 L251.50,196.77 L252.00,197.35 L252.50,195.71 L253.00,197.17 L253.50,196.50 L254.00,196.52 L254.50,196.24 L255.00,195.86 L255.50,196.60 L256.00,196.53 L256.50,197.13 L257.00,196.32 L257.50,197.69 L258.00,197.24 L258.50,197.08 L259.00,196.94 L259.50,196.98 L260.00,196.89 L260.50,197.23 L261.00,197.54 L261.50,197.53 L262.00,197.04 L262.50,197.63 L263.00,197.42 L263.50,197.96 L264.00,198.80 L264.50,198.31 L265.00,197.96 L265.50,197.48 L266.00,197.68 L266.50,197.67 L267.00,198.87 L267.50,198.31 L268.00,198.79 L268.50,198.59 L269.00,199.02 L269.50,199.72 L270.00,198.89 L270.50,199.16 L271.00,199.06 L271.50,199.92 L272.00,199.18 L272.50,199.24 L273.00,199.24 L273.50,199.34 L274.00,200.29 L274.50,201.35 L275.00,199.85 L275.50,200.87 L276.00,200.69 L276.50,200.22 L277.00,200.73 L277.50,200.88 L278.00,200.81 L278.50,202.13 L279.00,200.54 L279.50,201.71 L280.00,201.82 L280.50,201.55 L281.00,202.02 L281.50,202.48 L282.00,202.29 L282.50,202.55 L283.00,202.81 L283.50,201.76 L284.00,203.52 L284.50,204.05 L285.00,203.64 L285.50,203.83 L286.00,202.92 L286.50,203.67 L287.00,203.53 L287.50,203.81 L288.00,204.69 L288.50,204.06 L289.00,204.54 L289.50,203.92 L290.00,204.88 L290.50,205.17 L291.00,204.98 L291.50,205.15 L292.00,206.50 L292.50,205.28 L293.00,205.53 L293.50,205.81 L294.00,206.89 L294.50,207.47 L295.00,206.85 L295.50,206.61 L296.00,206.97 L296.50,207.87 L297.00,207.21 L297.50,208.50 L298.00,208.72 L298.50,208.34 L299.00,208.83 L299.50,209.11 L300.00,209.70 L300.50,208.76 L301.00,209.99 L301.50,209.52 L302.00,209.57 L302.50,210.20 L303.00,210.28 L303.50,210.17 L304.00,210.12 L304.50,210.65 L305.00,211.95 L305.50,212.47 L306.00,212.17 L306.50,212.70 L307.00,212.23 L307.50,212.72 L308.00,213.17 L308.50,212.84 L309.00,213.17 L309.50,213.95 L310.00,214.06 L310.50,214.01 L311.00,214.95 L311.50,214.95 L312.00,215.82 L312.50,215.65 L313.00,215.80 L313.50,216.29 L314.00,216.44 L314.50,216.51 L315.00,216.92 L315.50,217.75 L316.00,218.01 L316.50,218.61 L317.00,217.58 L317.50,218.47 L318.00,218.77 L318.50,219.35 L319.00,219.38 L319.50,219.66 L320.00,220.55 L320.50,220.59 L321.00,220.30 L321.50,221.73 L322.00,221.89 L322.50,221.49 L323.00,222.43 L323.50,222.04 L324.00,223.19 L324.50,222.89 L325.00,222.94 L325.50,223.47 L326.00,223.64 L326.50,224.41 L327.00,224.75 L327.50,225.02 L328.00,225.10 L328.50,224.04 L329.00,226.08 L329.50,225.52 L330.00,226.83 L330.50,227.57" fill="none" stroke="#0e4fae" stroke-width="3.1" stroke-linejoin="round" /><line x1="85.4" x2="85.4" y1="48.3" y2="204" stroke="#b50c0c" stroke-width="1.4"/><line x1="172.2" x2="172.2" y1="9.0" y2="196" stroke="#b50c0c" stroke-width="1.4"/><line x1="201.2" x2="201.2" y1="94.0" y2="183" stroke="#b50c0c" stroke-width="1.4"/><line x1="230.1" x2="230.1" y1="68.0" y2="192" stroke="#b50c0c" stroke-width="1.4"/><line x1="317.0" x2="317.0" y1="61.6" y2="217" stroke="#b50c0c" stroke-width="1.4"/><line x1="239.7" x2="239.7" y1="188.5" y2="194" stroke="#bd0a0a" stroke-width="1.0"/><line x1="201.2" x2="201.2" y1="185.5" y2="191" stroke="#111" stroke-width="1.0"/><line x1="282.6" x2="282.6" y1="192.1" y2="202" stroke="#0f52b4" stroke-width="1.2"/></g>
<line x1="391.0" x2="680.5" y1="122.86" y2="122.86" stroke="#ebebeb" stroke-width="0.8" stroke-dasharray="2.2,0.8"/>
<line x1="391.0" x2="680.5" y1="103.73" y2="103.73" stroke="#ebebeb" stroke-width="0.8" stroke-dasharray="2.2,0.8"/>
<line x1="391.0" x2="680.5" y1="86.27" y2="86.27" stroke="#ebebeb" stroke-width="0.8" stroke-dasharray="2.2,0.8"/>
<line x1="391.0" x2="680.5" y1="70.21" y2="70.21" stroke="#ebebeb" stroke-width="0.8" stroke-dasharray="2.2,0.8"/>
<line x1="391.0" x2="680.5" y1="55.33" y2="55.33" stroke="#ebebeb" stroke-width="0.8" stroke-dasharray="2.2,0.8"/>
<line x1="391.0" x2="680.5" y1="41.49" y2="41.49" stroke="#ebebeb" stroke-width="0.8" stroke-dasharray="2.2,0.8"/>
<line x1="391.0" x2="680.5" y1="28.54" y2="28.54" stroke="#ebebeb" stroke-width="0.8" stroke-dasharray="2.2,0.8"/>
<line x1="391.0" x2="680.5" y1="16.37" y2="16.37" stroke="#ebebeb" stroke-width="0.8" stroke-dasharray="2.2,0.8"/>
<line x1="391.0" x2="680.5" y1="167.64" y2="167.64" stroke="#ebebeb" stroke-width="0.8" stroke-dasharray="2.2,0.8"/>
<line x1="391.0" x2="680.5" y1="194.43" y2="194.43" stroke="#ebebeb" stroke-width="0.8" stroke-dasharray="2.2,0.8"/>
<line x1="391.0" x2="680.5" y1="225.37" y2="225.37" stroke="#ebebeb" stroke-width="0.8" stroke-dasharray="2.2,0.8"/>
<line x1="419.95" x2="419.95" y1="4.9" y2="238.0" stroke="#ebebeb" stroke-width="0.8" stroke-dasharray="2.2,0.8"/>
<line x1="477.85" x2="477.85" y1="4.9" y2="238.0" stroke="#ebebeb" stroke-width="0.8" stroke-dasharray="2.2,0.8"/>
<line x1="535.75" x2="535.75" y1="4.9" y2="238.0" stroke="#ebebeb" stroke-width="0.8" stroke-dasharray="2.2,0.8"/>
<line x1="593.65" x2="593.65" y1="4.9" y2="238.0" stroke="#ebebeb" stroke-width="0.8" stroke-dasharray="2.2,0.8"/>
<line x1="651.55" x2="651.55" y1="4.9" y2="238.0" stroke="#ebebeb" stroke-width="0.8" stroke-dasharray="2.2,0.8"/>
<line x1="448.90" x2="448.90" y1="4.9" y2="238.0" stroke="#c6c6c6" stroke-width="0.9"/>
<line x1="506.80" x2="506.80" y1="4.9" y2="238.0" stroke="#c6c6c6" stroke-width="0.9"/>
<line x1="564.70" x2="564.70" y1="4.9" y2="238.0" stroke="#c6c6c6" stroke-width="0.9"/>
<line x1="622.60" x2="622.60" y1="4.9" y2="238.0" stroke="#c6c6c6" stroke-width="0.9"/>
<line x1="391.0" x2="680.5" y1="144.00" y2="144.00" stroke="#c6c6c6" stroke-width="0.9"/>
<g clip-path="url(#cb)"><path d="M391.00,142.33 L391.60,136.56 L392.20,138.21 L392.80,138.47 L393.40,134.82 L394.00,134.40 L394.60,131.40 L395.20,149.08 L395.80,138.80 L396.40,146.84 L397.00,136.57 L397.60,139.14 L398.20,136.97 L398.80,142.14 L399.40,145.04 L400.00,140.00 L400.60,132.62 L401.20,131.98 L401.80,152.52 L402.40,136.63 L403.00,136.78 L403.60,151.58 L404.20,148.68 L404.80,144.33 L405.40,136.86 L406.00,159.37 L406.60,143.88 L407.20,145.38 L407.80,139.71 L408.40,129.75 L409.00,130.66 L409.60,145.17 L410.20,145.30 L410.80,140.44 L411.40,133.14 L412.00,131.26 L412.60,140.63 L413.20,131.77 L413.80,151.20 L414.40,153.54 L415.00,163.12 L415.60,151.90 L416.20,140.31 L416.80,138.37 L417.40,127.17 L418.00,141.21 L418.60,144.88 L419.20,154.37 L419.80,151.80 L420.40,151.87 L421.00,149.11 L421.60,152.92 L422.20,159.42 L422.80,139.64 L423.40,144.72 L424.00,137.57 L424.60,161.68 L425.20,159.36 L425.80,155.27 L426.40,140.09 L427.00,151.17 L427.60,148.19 L428.20,150.92 L428.80,149.04 L429.40,154.84 L430.00,147.90 L430.60,158.11 L431.20,153.73 L431.80,149.97 L432.40,151.81 L433.00,149.67 L433.60,159.85 L434.20,151.83 L434.80,156.65 L435.40,151.74 L436.00,143.70 L436.60,162.63 L437.20,147.87 L437.80,161.70 L438.40,160.12 L439.00,144.56 L439.60,150.46 L440.20,154.18 L440.80,152.19 L441.40,149.80 L442.00,164.85 L442.60,157.73 L443.20,162.86 L443.80,157.00 L444.40,162.96 L445.00,155.30 L445.60,161.16 L446.20,166.12 L446.80,162.42 L447.40,158.99 L448.00,154.61 L448.60,164.42 L449.20,166.11 L449.80,161.94 L450.40,158.43 L451.00,168.56 L451.60,182.00 L452.20,162.84 L452.80,167.91 L453.40,168.51 L454.00,148.89 L454.60,167.22 L455.20,161.36 L455.80,177.16 L456.40,165.32 L457.00,161.76 L457.60,166.19 L458.20,169.33 L458.80,164.28 L459.40,168.31 L460.00,159.06 L460.60,167.71 L461.20,175.40 L461.80,184.47 L462.40,175.60 L463.00,172.78 L463.60,179.77 L464.20,178.93 L464.80,183.95 L465.40,180.08 L466.00,171.75 L466.60,174.83 L467.20,174.61 L467.80,175.86 L468.40,175.48 L469.00,168.78 L469.60,159.67 L470.20,170.27 L470.80,160.82 L471.40,176.05 L472.00,175.83 L472.60,164.10 L473.20,181.18 L473.80,182.68 L474.40,177.44 L475.00,188.81 L475.60,190.48 L476.20,168.96 L476.80,185.03 L477.40,181.07 L478.00,181.14 L478.60,185.00 L479.20,173.64 L479.80,174.77 L480.40,173.33 L481.00,174.02 L481.60,178.79 L482.20,169.51 L482.80,172.53 L483.40,184.06 L484.00,179.70 L484.60,183.06 L485.20,167.36 L485.80,175.26 L486.40,177.04 L487.00,181.33 L487.60,177.19 L488.20,187.97 L488.80,181.23 L489.40,181.94 L490.00,182.09 L490.60,187.12 L491.20,179.07 L491.80,190.36 L492.40,185.93 L493.00,183.97 L493.60,183.37 L494.20,186.88 L494.80,190.51 L495.40,190.20 L496.00,186.42 L496.60,190.08 L497.20,184.98 L497.80,193.05 L498.40,184.33 L499.00,170.27 L499.60,194.18 L500.20,185.79 L500.80,177.02 L501.40,183.90 L502.00,179.26 L502.60,200.10 L503.20,189.09 L503.80,174.87 L504.40,189.67 L505.00,183.23 L505.60,199.41 L506.20,178.94 L506.80,170.78 L507.40,186.94 L508.00,184.19 L508.60,183.83 L509.20,172.01 L509.80,189.92 L510.40,198.67 L511.00,173.98 L511.60,195.43 L512.20,183.50 L512.80,203.47 L513.40,190.70 L514.00,186.50 L514.60,195.56 L515.20,191.68 L515.80,184.07 L516.40,193.19 L517.00,184.87 L517.60,176.17 L518.20,202.67 L518.80,186.35 L519.40,184.68 L520.00,191.34 L520.60,178.30 L521.20,179.78 L521.80,185.73 L522.40,185.66 L523.00,189.80 L523.60,197.10 L524.20,186.15 L524.80,192.87 L525.40,193.68 L526.00,182.14 L526.60,191.23 L527.20,183.23 L527.80,197.10 L528.40,192.97 L529.00,190.01 L529.60,180.75 L530.20,190.84 L530.80,184.89 L531.40,195.13 L532.00,189.58 L532.60,184.94 L533.20,197.00 L533.80,195.71 L534.40,186.81 L535.00,198.97 L535.60,189.07 L536.20,189.12 L536.80,192.21 L537.40,186.32 L538.00,188.57 L538.60,190.62 L539.20,202.33 L539.80,202.23 L540.40,190.33 L541.00,203.28 L541.60,192.10 L542.20,195.15 L542.80,198.75 L543.40,194.85 L544.00,208.73 L544.60,194.81 L545.20,185.11 L545.80,202.37 L546.40,190.78 L547.00,191.67 L547.60,178.19 L548.20,200.89 L548.80,199.79 L549.40,199.80 L550.00,201.18 L550.60,206.19 L551.20,194.49 L551.80,201.35 L552.40,190.03 L553.00,192.84 L553.60,202.60 L554.20,198.22 L554.80,186.62 L555.40,198.31 L556.00,194.75 L556.60,190.58 L557.20,199.26 L557.80,193.70 L558.40,185.91 L559.00,189.19 L559.60,208.93 L560.20,186.73 L560.80,198.63 L561.40,201.36 L562.00,201.64 L562.60,189.06 L563.20,195.30 L563.80,198.53 L564.40,203.09 L565.00,193.37 L565.60,189.94 L566.20,204.73 L566.80,205.52 L567.40,200.62 L568.00,194.07 L568.60,201.05 L569.20,199.12 L569.80,204.15 L570.40,190.10 L571.00,199.44 L571.60,197.66 L572.20,191.32 L572.80,200.38 L573.40,199.25 L574.00,196.32 L574.60,201.87 L575.20,189.69 L575.80,199.01 L576.40,202.38 L577.00,201.47 L577.60,206.91 L578.20,191.62 L578.80,189.64 L579.40,201.52 L580.00,203.07 L580.60,214.40 L581.20,204.34 L581.80,194.37 L582.40,205.80 L583.00,194.75 L583.60,190.52 L584.20,216.13 L584.80,202.92 L585.40,205.63 L586.00,204.70 L586.60,213.19 L587.20,202.99 L587.80,209.37 L588.40,194.35 L589.00,191.98 L589.60,211.04 L590.20,211.45 L590.80,205.05 L591.40,203.23 L592.00,202.92 L592.60,197.27 L593.20,212.32 L593.80,206.49 L594.40,205.56 L595.00,204.77 L595.60,209.37 L596.20,205.82 L596.80,207.52 L597.40,194.77 L598.00,206.12 L598.60,217.45 L599.20,199.40 L599.80,202.11 L600.40,209.00 L601.00,209.47 L601.60,207.28 L602.20,192.31 L602.80,206.53 L603.40,195.29 L604.00,197.73 L604.60,206.95 L605.20,201.35 L605.80,208.78 L606.40,218.77 L607.00,208.63 L607.60,208.30 L608.20,197.53 L608.80,199.26 L609.40,196.49 L610.00,200.07 L610.60,196.38 L611.20,199.30 L611.80,202.35 L612.40,197.10 L613.00,194.35 L613.60,194.77 L614.20,206.91 L614.80,204.32 L615.40,210.80 L616.00,210.96 L616.60,201.77 L617.20,208.54 L617.80,194.53 L618.40,219.34 L619.00,212.14 L619.60,202.79 L620.20,196.53 L620.80,206.83 L621.40,191.91 L622.00,199.20 L622.60,209.39 L623.20,204.95 L623.80,201.23 L624.40,210.84 L625.00,197.67 L625.60,206.49 L626.20,201.33 L626.80,199.05 L627.40,207.79 L628.00,198.17 L628.60,217.39 L629.20,200.95 L629.80,218.05 L630.40,197.65 L631.00,208.95 L631.60,197.03 L632.20,196.13 L632.80,206.11 L633.40,209.57 L634.00,196.70 L634.60,212.99 L635.20,199.93 L635.80,206.10 L636.40,207.78 L637.00,209.24 L637.60,193.47 L638.20,216.08 L638.80,209.13 L639.40,202.65 L640.00,198.74 L640.60,194.36 L641.20,196.59 L641.80,209.21 L642.40,203.40 L643.00,198.23 L643.60,202.25 L644.20,216.07 L644.80,203.62 L645.40,201.99 L646.00,214.77 L646.60,208.95 L647.20,206.24 L647.80,201.99 L648.40,195.81 L649.00,198.36 L649.60,202.94 L650.20,204.69 L650.80,208.52 L651.40,209.84 L652.00,207.71 L652.60,207.74 L653.20,199.71 L653.80,192.22 L654.40,202.98 L655.00,200.18 L655.60,202.19 L656.20,204.71 L656.80,198.39 L657.40,199.31 L658.00,205.97 L658.60,207.42 L659.20,202.40 L659.80,210.00 L660.40,205.34 L661.00,200.13 L661.60,207.12 L662.20,219.21 L662.80,202.51 L663.40,214.59 L664.00,216.01 L664.60,216.83 L665.20,201.70 L665.80,220.28 L666.40,207.91 L667.00,205.53 L667.60,205.72 L668.20,211.19 L668.80,207.63 L669.40,206.18 L670.00,215.75 L670.60,202.70 L671.20,200.65 L671.80,212.66 L672.40,212.11 L673.00,214.69 L673.60,200.61 L674.20,214.68 L674.80,210.81 L675.40,219.19 L676.00,199.62 L676.60,209.21 L677.20,206.02 L677.80,197.52 L678.40,203.25 L679.00,215.27 L679.60,204.93 L680.20,203.30" fill="none" stroke="#009600" stroke-width="1.45" stroke-linejoin="round" /><path d="M391.00,65.21 L391.60,66.13 L392.20,66.32 L392.80,55.86 L393.40,60.45 L394.00,67.18 L394.60,57.26 L395.20,56.90 L395.80,66.57 L396.40,71.17 L397.00,55.09 L397.60,48.40 L398.20,53.70 L398.80,56.53 L399.40,61.97 L400.00,66.70 L400.60,62.60 L401.20,59.76 L401.80,65.36 L402.40,59.15 L403.00,65.12 L403.60,62.03 L404.20,80.16 L404.80,71.74 L405.40,62.31 L406.00,61.82 L406.60,65.65 L407.20,58.89 L407.80,64.86 L408.40,65.29 L409.00,75.50 L409.60,68.12 L410.20,66.40 L410.80,63.52 L411.40,64.92 L412.00,72.00 L412.60,71.53 L413.20,80.05 L413.80,69.89 L414.40,80.44 L415.00,76.04 L415.60,74.89 L416.20,63.29 L416.80,68.02 L417.40,80.63 L418.00,84.99 L418.60,78.26 L419.20,82.02 L419.80,75.41 L420.40,76.05 L421.00,74.72 L421.60,84.97 L422.20,81.60 L422.80,78.55 L423.40,78.41 L424.00,84.14 L424.60,83.16 L425.20,76.65 L425.80,92.36 L426.40,84.02 L427.00,82.96 L427.60,92.18 L428.20,89.88 L428.80,83.63 L429.40,87.80 L430.00,78.58 L430.60,81.63 L431.20,72.40 L431.80,93.76 L432.40,75.53 L433.00,91.49 L433.60,82.90 L434.20,82.49 L434.80,87.67 L435.40,90.92 L436.00,93.47 L436.60,100.91 L437.20,92.91 L437.80,96.53 L438.40,88.13 L439.00,96.48 L439.60,93.60 L440.20,90.38 L440.80,93.06 L441.40,93.75 L442.00,95.75 L442.60,97.49 L443.20,92.51 L443.80,91.60 L444.40,101.00 L445.00,86.82 L445.60,93.77 L446.20,107.28 L446.80,84.64 L447.40,94.76 L448.00,103.53 L448.60,89.98 L449.20,114.16 L449.80,87.04 L450.40,109.98 L451.00,111.24 L451.60,107.94 L452.20,101.65 L452.80,105.66 L453.40,98.68 L454.00,109.46 L454.60,98.42 L455.20,104.04 L455.80,112.20 L456.40,100.07 L457.00,105.11 L457.60,108.83 L458.20,100.33 L458.80,115.91 L459.40,111.50 L460.00,100.91 L460.60,110.80 L461.20,107.51 L461.80,109.29 L462.40,114.78 L463.00,111.14 L463.60,122.27 L464.20,113.33 L464.80,124.53 L465.40,119.46 L466.00,125.93 L466.60,118.63 L467.20,119.93 L467.80,117.13 L468.40,128.59 L469.00,131.83 L469.60,140.00 L470.20,135.94 L470.80,130.30 L471.40,128.13 L472.00,132.33 L472.60,130.43 L473.20,139.98 L473.80,137.46 L474.40,127.38 L475.00,128.87 L475.60,141.80 L476.20,136.05 L476.80,133.41 L477.40,142.52 L478.00,133.67 L478.60,134.92 L479.20,134.43 L479.80,126.03 L480.40,143.47 L481.00,131.45 L481.60,135.71 L482.20,135.08 L482.80,144.32 L483.40,139.97 L484.00,140.89 L484.60,131.14 L485.20,141.12 L485.80,133.20 L486.40,144.32 L487.00,145.10 L487.60,143.22 L488.20,156.00 L488.80,147.33 L489.40,148.15 L490.00,145.85 L490.60,144.32 L491.20,151.76 L491.80,153.05 L492.40,139.11 L493.00,153.73 L493.60,150.96 L494.20,154.12 L494.80,151.64 L495.40,141.85 L496.00,142.76 L496.60,161.23 L497.20,152.27 L497.80,142.74 L498.40,153.81 L499.00,150.03 L499.60,141.62 L500.20,139.36 L500.80,143.78 L501.40,155.33 L502.00,153.71 L502.60,152.81 L503.20,156.31 L503.80,158.51 L504.40,142.58 L505.00,153.69 L505.60,150.83 L506.20,148.70 L506.80,153.12 L507.40,155.96 L508.00,155.40 L508.60,148.57 L509.20,154.70 L509.80,169.99 L510.40,151.83 L511.00,148.28 L511.60,160.29 L512.20,162.46 L512.80,161.90 L513.40,152.64 L514.00,165.59 L514.60,155.13 L515.20,153.27 L515.80,156.67 L516.40,159.91 L517.00,165.08 L517.60,164.78 L518.20,161.15 L518.80,167.12 L519.40,162.25 L520.00,167.38 L520.60,153.88 L521.20,153.15 L521.80,167.55 L522.40,154.86 L523.00,161.69 L523.60,163.21 L524.20,161.17 L524.80,161.68 L525.40,173.06 L526.00,151.20 L526.60,170.60 L527.20,179.37 L527.80,166.04 L528.40,166.09 L529.00,170.86 L529.60,177.77 L530.20,159.95 L530.80,167.85 L531.40,166.44 L532.00,171.16 L532.60,169.00 L533.20,172.24 L533.80,165.99 L534.40,169.05 L535.00,164.98 L535.60,165.25 L536.20,168.63 L536.80,168.87 L537.40,162.93 L538.00,179.62 L538.60,169.63 L539.20,162.38 L539.80,177.53 L540.40,166.71 L541.00,174.55 L541.60,171.70 L542.20,173.60 L542.80,173.43 L543.40,169.25 L544.00,173.25 L544.60,185.50 L545.20,160.17 L545.80,174.30 L546.40,176.81 L547.00,168.19 L547.60,166.58 L548.20,188.05 L548.80,173.17 L549.40,188.17 L550.00,179.21 L550.60,176.70 L551.20,179.34 L551.80,180.53 L552.40,184.04 L553.00,179.81 L553.60,178.31 L554.20,178.74 L554.80,186.03 L555.40,183.06 L556.00,172.39 L556.60,174.83 L557.20,180.86 L557.80,175.38 L558.40,177.10 L559.00,173.86 L559.60,178.27 L560.20,182.64 L560.80,186.37 L561.40,180.76 L562.00,193.45 L562.60,180.84 L563.20,195.40 L563.80,187.91 L564.40,185.18 L565.00,179.51 L565.60,169.00 L566.20,182.17 L566.80,184.47 L567.40,195.23 L568.00,175.72 L568.60,195.74 L569.20,183.09 L569.80,189.24 L570.40,171.36 L571.00,186.23 L571.60,183.58 L572.20,189.97 L572.80,186.67 L573.40,179.51 L574.00,192.28 L574.60,191.01 L575.20,190.66 L575.80,193.37 L576.40,194.17 L577.00,187.67 L577.60,179.89 L578.20,179.97 L578.80,196.62 L579.40,193.02 L580.00,189.61 L580.60,186.54 L581.20,189.49 L581.80,189.60 L582.40,187.58 L583.00,185.56 L583.60,202.89 L584.20,191.42 L584.80,186.57 L585.40,182.54 L586.00,186.15 L586.60,194.97 L587.20,195.35 L587.80,189.64 L588.40,191.41 L589.00,189.42 L589.60,184.75 L590.20,199.36 L590.80,193.94 L591.40,205.65 L592.00,187.46 L592.60,191.32 L593.20,197.60 L593.80,190.98 L594.40,184.27 L595.00,187.06 L595.60,193.50 L596.20,195.11 L596.80,192.63 L597.40,199.37 L598.00,199.46 L598.60,195.59 L599.20,193.96 L599.80,192.43 L600.40,197.36 L601.00,199.64 L601.60,194.56 L602.20,196.97 L602.80,192.40 L603.40,185.96 L604.00,188.49 L604.60,199.17 L605.20,197.33 L605.80,204.27 L606.40,195.14 L607.00,200.06 L607.60,202.89 L608.20,200.99 L608.80,191.45 L609.40,194.07 L610.00,196.03 L610.60,189.41 L611.20,198.25 L611.80,201.62 L612.40,192.66 L613.00,207.46 L613.60,193.96 L614.20,194.56 L614.80,194.42 L615.40,191.68 L616.00,198.51 L616.60,196.20 L617.20,206.12 L617.80,199.87 L618.40,199.53 L619.00,195.05 L619.60,187.96 L620.20,195.99 L620.80,191.50 L621.40,202.39 L622.00,196.57 L622.60,206.82 L623.20,201.31 L623.80,201.99 L624.40,198.43 L625.00,198.38 L625.60,201.12 L626.20,202.81 L626.80,193.09 L627.40,200.38 L628.00,211.30 L628.60,197.04 L629.20,196.12 L629.80,193.57 L630.40,189.11 L631.00,205.01 L631.60,198.32 L632.20,199.82 L632.80,209.17 L633.40,211.98 L634.00,192.92 L634.60,204.65 L635.20,202.14 L635.80,200.87 L636.40,201.43 L637.00,198.50 L637.60,208.25 L638.20,202.47 L638.80,200.93 L639.40,206.42 L640.00,204.39 L640.60,201.85 L641.20,201.13 L641.80,209.78 L642.40,202.37 L643.00,198.85 L643.60,194.32 L644.20,197.48 L644.80,193.32 L645.40,200.34 L646.00,201.31 L646.60,187.54 L647.20,200.03 L647.80,203.89 L648.40,201.07 L649.00,194.41 L649.60,207.83 L650.20,196.11 L650.80,193.00 L651.40,193.96 L652.00,200.43 L652.60,206.49 L653.20,207.66 L653.80,202.00 L654.40,193.65 L655.00,196.95 L655.60,195.58 L656.20,199.97 L656.80,190.47 L657.40,201.85 L658.00,205.13 L658.60,200.44 L659.20,204.17 L659.80,195.85 L660.40,192.83 L661.00,197.81 L661.60,208.65 L662.20,207.96 L662.80,199.11 L663.40,209.15 L664.00,200.06 L664.60,211.15 L665.20,205.05 L665.80,199.52 L666.40,207.08 L667.00,197.73 L667.60,196.84 L668.20,193.82 L668.80,204.15 L669.40,202.36 L670.00,202.29 L670.60,200.37 L671.20,211.53 L671.80,200.43 L672.40,198.71 L673.00,210.60 L673.60,211.73 L674.20,205.31 L674.80,192.91 L675.40,199.83 L676.00,207.18 L676.60,203.68 L677.20,212.97 L677.80,195.52 L678.40,207.87 L679.00,200.11 L679.60,211.89 L680.20,203.55" fill="none" stroke="#b4005f" stroke-width="1.45" stroke-linejoin="round" /><path d="M391.00,39.39 L391.60,29.02 L392.20,24.33 L392.80,26.22 L393.40,29.37 L394.00,26.82 L394.60,40.64 L395.20,41.53 L395.80,34.96 L396.40,26.90 L397.00,32.60 L397.60,29.12 L398.20,42.40 L398.80,35.39 L399.40,36.50 L400.00,31.03 L400.60,21.27 L401.20,29.15 L401.80,27.22 L402.40,36.63 L403.00,35.15 L403.60,29.80 L404.20,32.57 L404.80,44.86 L405.40,29.46 L406.00,29.93 L406.60,34.40 L407.20,31.70 L407.80,33.58 L408.40,39.72 L409.00,47.35 L409.60,25.87 L410.20,37.01 L410.80,37.74 L411.40,37.32 L412.00,37.05 L412.60,36.46 L413.20,45.12 L413.80,36.41 L414.40,38.85 L415.00,40.00 L415.60,41.02 L416.20,39.67 L416.80,47.24 L417.40,41.39 L418.00,42.87 L418.60,41.84 L419.20,36.34 L419.80,37.77 L420.40,36.85 L421.00,44.99 L421.60,39.89 L422.20,38.22 L422.80,46.71 L423.40,48.95 L424.00,35.36 L424.60,57.08 L425.20,47.36 L425.80,46.99 L426.40,54.68 L427.00,49.03 L427.60,45.37 L428.20,63.06 L428.80,43.43 L429.40,49.92 L430.00,56.21 L430.60,45.33 L431.20,52.17 L431.80,56.08 L432.40,68.73 L433.00,50.01 L433.60,56.11 L434.20,61.35 L434.80,58.70 L435.40,51.71 L436.00,62.51 L436.60,61.56 L437.20,64.54 L437.80,69.64 L438.40,69.82 L439.00,67.00 L439.60,67.31 L440.20,59.48 L440.80,66.06 L441.40,68.89 L442.00,65.74 L442.60,69.46 L443.20,64.46 L443.80,79.58 L444.40,84.03 L445.00,69.11 L445.60,74.61 L446.20,71.39 L446.80,81.22 L447.40,76.80 L448.00,75.27 L448.60,74.09 L449.20,76.89 L449.80,70.66 L450.40,81.65 L451.00,73.93 L451.60,82.35 L452.20,80.65 L452.80,87.34 L453.40,81.32 L454.00,88.46 L454.60,77.34 L455.20,87.49 L455.80,83.17 L456.40,86.51 L457.00,86.54 L457.60,92.60 L458.20,75.32 L458.80,90.41 L459.40,80.09 L460.00,97.37 L460.60,78.79 L461.20,85.55 L461.80,82.30 L462.40,103.37 L463.00,86.33 L463.60,95.74 L464.20,92.61 L464.80,85.74 L465.40,95.50 L466.00,102.44 L466.60,98.12 L467.20,105.82 L467.80,98.71 L468.40,101.80 L469.00,100.25 L469.60,105.53 L470.20,115.91 L470.80,107.57 L471.40,107.56 L472.00,103.63 L472.60,103.82 L473.20,118.36 L473.80,103.69 L474.40,105.92 L475.00,111.91 L475.60,110.93 L476.20,126.44 L476.80,101.56 L477.40,118.78 L478.00,121.94 L478.60,111.80 L479.20,115.72 L479.80,123.29 L480.40,131.51 L481.00,116.90 L481.60,113.80 L482.20,130.21 L482.80,134.46 L483.40,124.06 L484.00,113.55 L484.60,136.72 L485.20,127.59 L485.80,136.53 L486.40,130.34 L487.00,129.22 L487.60,129.66 L488.20,142.24 L488.80,142.91 L489.40,122.13 L490.00,130.32 L490.60,147.32 L491.20,134.85 L491.80,129.37 L492.40,138.19 L493.00,138.04 L493.60,138.65 L494.20,136.87 L494.80,138.44 L495.40,138.10 L496.00,143.42 L496.60,137.02 L497.20,140.73 L497.80,142.15 L498.40,151.47 L499.00,146.36 L499.60,143.98 L500.20,148.37 L500.80,147.94 L501.40,152.42 L502.00,149.26 L502.60,157.41 L503.20,155.05 L503.80,147.03 L504.40,145.13 L505.00,153.34 L505.60,151.48 L506.20,148.15 L506.80,140.15 L507.40,138.37 L508.00,151.90 L508.60,154.82 L509.20,155.37 L509.80,143.10 L510.40,157.47 L511.00,148.27 L511.60,154.15 L512.20,154.62 L512.80,147.56 L513.40,149.13 L514.00,140.49 L514.60,147.77 L515.20,142.72 L515.80,156.54 L516.40,154.57 L517.00,160.01 L517.60,156.95 L518.20,151.27 L518.80,157.49 L519.40,153.35 L520.00,159.67 L520.60,158.20 L521.20,150.64 L521.80,156.91 L522.40,157.53 L523.00,155.65 L523.60,163.19 L524.20,168.41 L524.80,156.19 L525.40,156.59 L526.00,145.47 L526.60,158.52 L527.20,156.98 L527.80,146.90 L528.40,161.94 L529.00,164.05 L529.60,156.39 L530.20,158.84 L530.80,155.51 L531.40,166.14 L532.00,152.68 L532.60,160.16 L533.20,174.00 L533.80,162.83 L534.40,165.57 L535.00,162.12 L535.60,156.19 L536.20,163.28 L536.80,166.16 L537.40,157.82 L538.00,166.25 L538.60,171.91 L539.20,171.10 L539.80,155.42 L540.40,159.34 L541.00,155.79 L541.60,172.26 L542.20,169.78 L542.80,170.65 L543.40,161.38 L544.00,159.92 L544.60,167.77 L545.20,168.21 L545.80,162.69 L546.40,169.07 L547.00,172.44 L547.60,170.20 L548.20,162.72 L548.80,156.41 L549.40,168.11 L550.00,171.01 L550.60,168.63 L551.20,167.83 L551.80,166.44 L552.40,175.40 L553.00,170.87 L553.60,172.21 L554.20,165.62 L554.80,168.04 L555.40,173.18 L556.00,166.10 L556.60,164.74 L557.20,170.81 L557.80,180.68 L558.40,174.56 L559.00,182.82 L559.60,173.01 L560.20,172.14 L560.80,165.56 L561.40,171.04 L562.00,184.14 L562.60,177.39 L563.20,180.28 L563.80,180.41 L564.40,176.14 L565.00,175.19 L565.60,177.57 L566.20,181.42 L566.80,180.35 L567.40,180.88 L568.00,179.00 L568.60,173.31 L569.20,176.90 L569.80,172.78 L570.40,185.70 L571.00,165.70 L571.60,178.22 L572.20,194.91 L572.80,177.88 L573.40,172.92 L574.00,180.48 L574.60,189.32 L575.20,180.02 L575.80,185.37 L576.40,182.22 L577.00,179.33 L577.60,197.28 L578.20,182.75 L578.80,178.95 L579.40,179.50 L580.00,185.54 L580.60,185.97 L581.20,188.64 L581.80,184.67 L582.40,174.36 L583.00,187.77 L583.60,182.36 L584.20,182.75 L584.80,174.92 L585.40,181.28 L586.00,180.48 L586.60,185.39 L587.20,176.02 L587.80,186.46 L588.40,187.21 L589.00,178.97 L589.60,182.58 L590.20,181.22 L590.80,193.53 L591.40,171.79 L592.00,185.44 L592.60,176.62 L593.20,185.31 L593.80,194.36 L594.40,184.40 L595.00,189.96 L595.60,183.39 L596.20,202.93 L596.80,196.06 L597.40,197.80 L598.00,180.95 L598.60,182.76 L599.20,198.22 L599.80,189.56 L600.40,189.27 L601.00,193.54 L601.60,182.53 L602.20,196.85 L602.80,191.69 L603.40,195.03 L604.00,187.11 L604.60,195.51 L605.20,187.11 L605.80,198.84 L606.40,200.19 L607.00,198.78 L607.60,196.14 L608.20,197.08 L608.80,176.66 L609.40,198.72 L610.00,191.08 L610.60,193.78 L611.20,191.25 L611.80,183.62 L612.40,189.71 L613.00,198.21 L613.60,203.64 L614.20,189.48 L614.80,187.63 L615.40,204.24 L616.00,188.02 L616.60,208.84 L617.20,194.79 L617.80,188.38 L618.40,201.57 L619.00,206.65 L619.60,184.88 L620.20,205.94 L620.80,193.15 L621.40,205.61 L622.00,192.64 L622.60,184.35 L623.20,198.99 L623.80,202.06 L624.40,210.33 L625.00,207.82 L625.60,200.71 L626.20,194.27 L626.80,192.38 L627.40,194.05 L628.00,190.38 L628.60,194.37 L629.20,180.28 L629.80,197.72 L630.40,196.36 L631.00,212.75 L631.60,202.05 L632.20,193.47 L632.80,200.87 L633.40,188.43 L634.00,192.88 L634.60,184.12 L635.20,207.33 L635.80,201.52 L636.40,189.23 L637.00,197.13 L637.60,204.29 L638.20,201.20 L638.80,200.50 L639.40,191.91 L640.00,193.54 L640.60,198.73 L641.20,204.56 L641.80,192.38 L642.40,190.39 L643.00,206.31 L643.60,191.85 L644.20,205.96 L644.80,200.18 L645.40,204.71 L646.00,210.81 L646.60,203.48 L647.20,204.15 L647.80,192.36 L648.40,193.97 L649.00,203.41 L649.60,209.70 L650.20,208.76 L650.80,215.18 L651.40,201.32 L652.00,200.62 L652.60,206.30 L653.20,199.45 L653.80,198.94 L654.40,192.11 L655.00,206.44 L655.60,192.06 L656.20,203.21 L656.80,189.75 L657.40,207.41 L658.00,192.60 L658.60,205.76 L659.20,188.79 L659.80,196.90 L660.40,208.29 L661.00,194.46 L661.60,200.63 L662.20,196.87 L662.80,184.18 L663.40,202.50 L664.00,203.43 L664.60,192.71 L665.20,204.54 L665.80,195.01 L666.40,193.62 L667.00,200.75 L667.60,195.99 L668.20,216.87 L668.80,190.00 L669.40,206.11 L670.00,207.92 L670.60,187.21 L671.20,188.99 L671.80,205.12 L672.40,197.87 L673.00,203.98 L673.60,209.34 L674.20,198.81 L674.80,194.03 L675.40,185.44 L676.00,203.03 L676.60,195.16 L677.20,203.91 L677.80,203.40 L678.40,192.15 L679.00,213.97 L679.60,209.54 L680.20,207.94" fill="none" stroke="#1560c0" stroke-width="1.45" stroke-linejoin="round" /><path d="M558.70,176 L561.10,166 L562.10,156 L563.10,144 L563.70,134 L565.70,134 L566.40,144 L567.50,156 L568.50,166 L570.70,178 Z" fill="#1560c0"/><line x1="622.70" x2="622.70" y1="163" y2="185" stroke="#1560c0" stroke-width="1.3"/><path d="M391.00,190.30 L391.60,195.36 L392.20,194.47 L392.80,195.33 L393.40,190.73 L394.00,200.88 L394.60,199.55 L395.20,200.45 L395.80,194.79 L396.40,206.48 L397.00,199.32 L397.60,183.16 L398.20,193.96 L398.80,197.76 L399.40,204.42 L400.00,196.20 L400.60,196.54 L401.20,193.86 L401.80,202.51 L402.40,195.28 L403.00,194.28 L403.60,193.39 L404.20,201.84 L404.80,194.77 L405.40,187.35 L406.00,202.30 L406.60,193.71 L407.20,200.60 L407.80,200.71 L408.40,206.12 L409.00,205.09 L409.60,194.58 L410.20,197.24 L410.80,189.95 L411.40,209.25 L412.00,201.23 L412.60,207.43 L413.20,196.30 L413.80,185.07 L414.40,208.35 L415.00,199.01 L415.60,199.28 L416.20,198.79 L416.80,202.63 L417.40,201.91 L418.00,188.12 L418.60,205.53 L419.20,195.04 L419.80,195.45 L420.40,209.73 L421.00,204.49 L421.60,196.32 L422.20,186.46 L422.80,199.59 L423.40,202.05 L424.00,198.04 L424.60,190.47 L425.20,193.44 L425.80,190.43 L426.40,200.00 L427.00,203.94 L427.60,205.29 L428.20,193.87 L428.80,200.17 L429.40,202.25 L430.00,195.34 L430.60,197.71 L431.20,212.49 L431.80,200.02 L432.40,204.44 L433.00,195.89 L433.60,198.99 L434.20,187.59 L434.80,198.58 L435.40,206.50 L436.00,212.41 L436.60,206.55 L437.20,203.25 L437.80,199.14 L438.40,194.90 L439.00,197.77 L439.60,202.81 L440.20,193.73 L440.80,204.91 L441.40,192.46 L442.00,187.30 L442.60,192.30 L443.20,188.06 L443.80,189.97 L444.40,206.26 L445.00,197.61 L445.60,200.35 L446.20,206.46 L446.80,207.13 L447.40,195.68 L448.00,207.60 L448.60,201.48 L449.20,199.01 L449.80,201.87 L450.40,189.78 L451.00,194.00 L451.60,198.48 L452.20,203.21 L452.80,196.90 L453.40,198.55 L454.00,205.75 L454.60,208.69 L455.20,204.57 L455.80,207.90 L456.40,197.09 L457.00,197.80 L457.60,201.92 L458.20,197.97 L458.80,196.69 L459.40,210.80 L460.00,198.82 L460.60,193.91 L461.20,203.43 L461.80,212.26 L462.40,200.92 L463.00,208.47 L463.60,197.68 L464.20,197.40 L464.80,196.18 L465.40,199.80 L466.00,212.74 L466.60,193.36 L467.20,211.58 L467.80,194.45 L468.40,199.55 L469.00,206.57 L469.60,205.30 L470.20,203.11 L470.80,190.62 L471.40,203.76 L472.00,194.83 L472.60,216.49 L473.20,200.22 L473.80,202.90 L474.40,194.29 L475.00,198.70 L475.60,193.49 L476.20,208.33 L476.80,200.31 L477.40,205.74 L478.00,197.70 L478.60,198.96 L479.20,210.66 L479.80,196.04 L480.40,190.71 L481.00,205.13 L481.60,195.14 L482.20,199.77 L482.80,208.62 L483.40,197.44 L484.00,208.53 L484.60,198.46 L485.20,212.65 L485.80,211.64 L486.40,200.03 L487.00,201.78 L487.60,197.82 L488.20,204.60 L488.80,210.83 L489.40,194.03 L490.00,209.46 L490.60,194.93 L491.20,197.98 L491.80,191.99 L492.40,217.33 L493.00,204.06 L493.60,205.31 L494.20,199.36 L494.80,210.72 L495.40,190.15 L496.00,204.03 L496.60,218.24 L497.20,201.45 L497.80,204.08 L498.40,208.37 L499.00,198.77 L499.60,204.22 L500.20,210.36 L500.80,205.41 L501.40,206.60 L502.00,201.95 L502.60,206.31 L503.20,204.65 L503.80,213.79 L504.40,209.07 L505.00,202.82 L505.60,189.49 L506.20,209.12 L506.80,209.42 L507.40,198.58 L508.00,191.59 L508.60,197.19 L509.20,210.67 L509.80,197.77 L510.40,201.74 L511.00,206.19 L511.60,212.75 L512.20,204.71 L512.80,204.22 L513.40,201.34 L514.00,215.54 L514.60,211.90 L515.20,204.39 L515.80,195.97 L516.40,199.95 L517.00,208.89 L517.60,200.47 L518.20,210.99 L518.80,207.58 L519.40,207.17 L520.00,209.55 L520.60,208.58 L521.20,199.81 L521.80,203.29 L522.40,220.39 L523.00,197.63 L523.60,202.43 L524.20,212.48 L524.80,204.55 L525.40,200.35 L526.00,197.06 L526.60,209.18 L527.20,212.36 L527.80,214.87 L528.40,206.15 L529.00,212.63 L529.60,199.16 L530.20,207.00 L530.80,201.54 L531.40,207.11 L532.00,210.90 L532.60,213.01 L533.20,199.66 L533.80,214.37 L534.40,203.08 L535.00,199.53 L535.60,205.13 L536.20,196.77 L536.80,206.34 L537.40,208.23 L538.00,205.08 L538.60,209.90 L539.20,204.41 L539.80,206.51 L540.40,197.15 L541.00,206.81 L541.60,201.02 L542.20,203.65 L542.80,205.98 L543.40,207.85 L544.00,195.93 L544.60,196.49 L545.20,204.71 L545.80,209.78 L546.40,209.05 L547.00,212.54 L547.60,215.21 L548.20,210.00 L548.80,206.66 L549.40,200.11 L550.00,200.68 L550.60,203.82 L551.20,208.61 L551.80,208.33 L552.40,206.94 L553.00,205.94 L553.60,211.05 L554.20,208.33 L554.80,208.93 L555.40,209.02 L556.00,203.48 L556.60,200.35 L557.20,210.27 L557.80,209.80 L558.40,205.68 L559.00,204.43 L559.60,221.96 L560.20,202.24 L560.80,205.78 L561.40,208.94 L562.00,199.73 L562.60,208.02 L563.20,218.96 L563.80,213.36 L564.40,211.42 L565.00,211.18 L565.60,208.08 L566.20,213.60 L566.80,206.38 L567.40,204.67 L568.00,208.10 L568.60,213.34 L569.20,209.62 L569.80,211.88 L570.40,194.36 L571.00,215.29 L571.60,222.50 L572.20,216.25 L572.80,205.53 L573.40,202.10 L574.00,209.44 L574.60,201.24 L575.20,212.39 L575.80,204.28 L576.40,213.96 L577.00,216.59 L577.60,194.54 L578.20,209.68 L578.80,203.25 L579.40,198.65 L580.00,203.82 L580.60,206.43 L581.20,214.59 L581.80,198.00 L582.40,214.74 L583.00,221.05 L583.60,211.84 L584.20,211.52 L584.80,207.91 L585.40,200.38 L586.00,211.51 L586.60,210.55 L587.20,212.83 L587.80,223.04 L588.40,212.84 L589.00,210.90 L589.60,218.31 L590.20,199.43 L590.80,200.77 L591.40,205.77 L592.00,203.98 L592.60,212.76 L593.20,206.21 L593.80,219.60 L594.40,218.20 L595.00,213.34 L595.60,205.84 L596.20,212.38 L596.80,213.67 L597.40,201.48 L598.00,210.70 L598.60,213.04 L599.20,209.88 L599.80,218.71 L600.40,216.40 L601.00,203.15 L601.60,209.34 L602.20,203.11 L602.80,212.32 L603.40,202.93 L604.00,214.58 L604.60,211.11 L605.20,214.91 L605.80,207.67 L606.40,199.15 L607.00,220.11 L607.60,207.52 L608.20,217.60 L608.80,211.46 L609.40,213.06 L610.00,220.58 L610.60,210.91 L611.20,217.81 L611.80,199.07 L612.40,214.39 L613.00,207.17 L613.60,207.88 L614.20,208.82 L614.80,211.03 L615.40,219.56 L616.00,196.75 L616.60,209.10 L617.20,204.17 L617.80,216.41 L618.40,206.09 L619.00,211.83 L619.60,206.28 L620.20,213.22 L620.80,215.49 L621.40,206.32 L622.00,209.23 L622.60,199.69 L623.20,210.92 L623.80,214.51 L624.40,205.35 L625.00,216.25 L625.60,195.50 L626.20,196.96 L626.80,199.98 L627.40,205.86 L628.00,209.15 L628.60,208.52 L629.20,208.61 L629.80,213.76 L630.40,206.00 L631.00,200.87 L631.60,201.01 L632.20,222.84 L632.80,194.17 L633.40,207.98 L634.00,218.61 L634.60,212.29 L635.20,203.77 L635.80,209.19 L636.40,214.80 L637.00,217.05 L637.60,203.36 L638.20,214.16 L638.80,210.87 L639.40,216.42 L640.00,218.29 L640.60,207.03 L641.20,199.85 L641.80,211.86 L642.40,220.84 L643.00,213.76 L643.60,210.81 L644.20,224.28 L644.80,202.58 L645.40,215.22 L646.00,205.65 L646.60,209.70 L647.20,209.97 L647.80,219.24 L648.40,203.32 L649.00,205.94 L649.60,199.08 L650.20,212.61 L650.80,206.47 L651.40,212.21 L652.00,202.50 L652.60,207.15 L653.20,216.25 L653.80,208.38 L654.40,213.59 L655.00,212.97 L655.60,207.25 L656.20,199.42 L656.80,215.97 L657.40,210.69 L658.00,215.98 L658.60,196.52 L659.20,198.86 L659.80,195.69 L660.40,203.93 L661.00,216.42 L661.60,213.33 L662.20,209.44 L662.80,210.53 L663.40,214.63 L664.00,207.74 L664.60,212.29 L665.20,210.63 L665.80,195.52 L666.40,207.24 L667.00,218.59 L667.60,207.19 L668.20,208.85 L668.80,205.85 L669.40,206.65 L670.00,217.12 L670.60,208.08 L671.20,203.19 L671.80,194.90 L672.40,206.13 L673.00,197.08 L673.60,198.03 L674.20,215.06 L674.80,214.51 L675.40,197.45 L676.00,215.46 L676.60,212.92 L677.20,204.85 L677.80,214.73 L678.40,199.40 L679.00,202.15 L679.60,200.63 L680.20,202.78" fill="none" stroke="#dc0a14" stroke-width="1.45" stroke-linejoin="round" /><path d="M391.00,213.21 L391.60,198.84 L392.20,200.03 L392.80,201.33 L393.40,208.80 L394.00,205.33 L394.60,213.15 L395.20,202.92 L395.80,199.17 L396.40,204.28 L397.00,207.79 L397.60,201.50 L398.20,209.36 L398.80,219.36 L399.40,203.77 L400.00,207.84 L400.60,216.34 L401.20,203.34 L401.80,202.04 L402.40,200.44 L403.00,210.14 L403.60,210.90 L404.20,206.59 L404.80,207.83 L405.40,215.83 L406.00,213.19 L406.60,198.44 L407.20,207.49 L407.80,208.24 L408.40,212.23 L409.00,206.10 L409.60,203.36 L410.20,204.58 L410.80,196.00 L411.40,207.39 L412.00,203.68 L412.60,210.59 L413.20,200.89 L413.80,204.73 L414.40,201.20 L415.00,200.64 L415.60,212.11 L416.20,204.54 L416.80,210.46 L417.40,200.30 L418.00,208.20 L418.60,196.60 L419.20,204.47 L419.80,204.31 L420.40,211.37 L421.00,208.75 L421.60,206.45 L422.20,213.03 L422.80,208.83 L423.40,211.09 L424.00,212.58 L424.60,207.17 L425.20,205.70 L425.80,209.73 L426.40,204.91 L427.00,210.14 L427.60,214.82 L428.20,213.18 L428.80,205.16 L429.40,199.30 L430.00,207.28 L430.60,206.83 L431.20,214.83 L431.80,205.18 L432.40,206.31 L433.00,212.44 L433.60,204.58 L434.20,206.65 L434.80,218.81 L435.40,217.36 L436.00,211.79 L436.60,209.45 L437.20,201.43 L437.80,211.34 L438.40,208.10 L439.00,209.16 L439.60,204.38 L440.20,207.67 L440.80,206.56 L441.40,209.81 L442.00,217.03 L442.60,210.12 L443.20,197.02 L443.80,201.49 L444.40,197.52 L445.00,202.65 L445.60,211.43 L446.20,210.41 L446.80,203.93 L447.40,209.55 L448.00,202.92 L448.60,198.62 L449.20,198.72 L449.80,202.28 L450.40,217.07 L451.00,199.16 L451.60,215.93 L452.20,216.49 L452.80,206.70 L453.40,207.56 L454.00,203.91 L454.60,207.73 L455.20,212.17 L455.80,207.96 L456.40,214.38 L457.00,215.61 L457.60,210.15 L458.20,210.05 L458.80,207.53 L459.40,210.18 L460.00,200.71 L460.60,210.58 L461.20,209.29 L461.80,202.37 L462.40,221.93 L463.00,201.67 L463.60,202.34 L464.20,209.79 L464.80,195.42 L465.40,202.86 L466.00,198.11 L466.60,201.74 L467.20,207.15 L467.80,210.09 L468.40,215.19 L469.00,213.26 L469.60,215.72 L470.20,211.86 L470.80,205.01 L471.40,215.29 L472.00,204.89 L472.60,204.08 L473.20,218.00 L473.80,213.19 L474.40,209.51 L475.00,212.97 L475.60,213.80 L476.20,199.26 L476.80,207.50 L477.40,200.46 L478.00,208.91 L478.60,203.77 L479.20,216.95 L479.80,211.51 L480.40,202.88 L481.00,208.05 L481.60,200.32 L482.20,208.46 L482.80,211.76 L483.40,209.93 L484.00,195.71 L484.60,206.08 L485.20,211.57 L485.80,210.27 L486.40,215.82 L487.00,199.96 L487.60,211.72 L488.20,204.11 L488.80,209.62 L489.40,211.00 L490.00,212.84 L490.60,204.65 L491.20,209.61 L491.80,200.84 L492.40,199.27 L493.00,212.06 L493.60,208.11 L494.20,197.96 L494.80,202.97 L495.40,208.63 L496.00,218.63 L496.60,215.33 L497.20,213.74 L497.80,196.97 L498.40,207.95 L499.00,211.70 L499.60,211.17 L500.20,211.33 L500.80,207.13 L501.40,220.08 L502.00,218.26 L502.60,208.08 L503.20,202.33 L503.80,222.06 L504.40,205.14 L505.00,216.52 L505.60,221.17 L506.20,202.65 L506.80,210.68 L507.40,206.55 L508.00,212.17 L508.60,210.92 L509.20,221.49 L509.80,212.70 L510.40,208.82 L511.00,216.21 L511.60,207.14 L512.20,206.55 L512.80,223.49 L513.40,203.62 L514.00,205.79 L514.60,209.27 L515.20,202.13 L515.80,195.31 L516.40,215.89 L517.00,203.94 L517.60,205.54 L518.20,206.65 L518.80,202.71 L519.40,202.12 L520.00,210.16 L520.60,224.47 L521.20,213.93 L521.80,214.02 L522.40,199.39 L523.00,209.04 L523.60,201.52 L524.20,214.24 L524.80,207.76 L525.40,209.50 L526.00,208.69 L526.60,205.49 L527.20,199.41 L527.80,213.08 L528.40,200.34 L529.00,201.67 L529.60,207.42 L530.20,204.78 L530.80,211.09 L531.40,215.97 L532.00,211.03 L532.60,210.71 L533.20,209.60 L533.80,215.04 L534.40,197.48 L535.00,211.88 L535.60,203.44 L536.20,201.51 L536.80,209.57 L537.40,207.03 L538.00,213.36 L538.60,216.74 L539.20,195.03 L539.80,209.14 L540.40,222.36 L541.00,215.30 L541.60,219.08 L542.20,234.00 L542.80,200.40 L543.40,202.45 L544.00,214.41 L544.60,216.04 L545.20,205.08 L545.80,208.11 L546.40,211.58 L547.00,198.53 L547.60,207.66 L548.20,220.48 L548.80,224.19 L549.40,209.31 L550.00,221.94 L550.60,206.65 L551.20,204.82 L551.80,195.56 L552.40,216.35 L553.00,207.73 L553.60,225.39 L554.20,212.37 L554.80,211.46 L555.40,198.52 L556.00,220.04 L556.60,207.95 L557.20,209.29 L557.80,196.02 L558.40,216.41 L559.00,216.84 L559.60,206.50 L560.20,211.07 L560.80,213.05 L561.40,216.78 L562.00,211.22 L562.60,221.77 L563.20,209.02 L563.80,206.68 L564.40,207.61 L565.00,196.09 L565.60,205.46 L566.20,217.27 L566.80,212.47 L567.40,205.46 L568.00,213.08 L568.60,197.71 L569.20,209.01 L569.80,214.30 L570.40,215.45 L571.00,205.90 L571.60,216.90 L572.20,223.14 L572.80,208.24 L573.40,215.86 L574.00,200.94 L574.60,198.34 L575.20,215.10 L575.80,211.42 L576.40,212.47 L577.00,207.41 L577.60,209.31 L578.20,216.52 L578.80,222.44 L579.40,209.89 L580.00,200.60 L580.60,219.64 L581.20,215.30 L581.80,215.84 L582.40,212.61 L583.00,226.56 L583.60,211.97 L584.20,214.85 L584.80,199.48 L585.40,207.79 L586.00,207.12 L586.60,211.41 L587.20,213.90 L587.80,206.78 L588.40,222.94 L589.00,204.78 L589.60,208.80 L590.20,213.31 L590.80,203.65 L591.40,215.52 L592.00,215.95 L592.60,209.96 L593.20,224.30 L593.80,212.44 L594.40,213.76 L595.00,205.71 L595.60,201.09 L596.20,207.90 L596.80,209.94 L597.40,209.10 L598.00,217.08 L598.60,197.49 L599.20,204.76 L599.80,200.28 L600.40,220.90 L601.00,208.52 L601.60,208.86 L602.20,205.06 L602.80,218.09 L603.40,209.58 L604.00,213.71 L604.60,199.05 L605.20,219.92 L605.80,214.88 L606.40,215.92 L607.00,220.39 L607.60,211.11 L608.20,211.29 L608.80,217.07 L609.40,215.19 L610.00,210.83 L610.60,212.73 L611.20,209.18 L611.80,217.13 L612.40,218.57 L613.00,212.54 L613.60,224.75 L614.20,202.52 L614.80,211.03 L615.40,223.71 L616.00,209.84 L616.60,202.18 L617.20,221.70 L617.80,216.18 L618.40,204.87 L619.00,217.71 L619.60,206.02 L620.20,203.96 L620.80,211.72 L621.40,209.59 L622.00,205.59 L622.60,210.37 L623.20,206.23 L623.80,213.18 L624.40,212.65 L625.00,217.67 L625.60,209.87 L626.20,204.17 L626.80,204.26 L627.40,211.27 L628.00,222.90 L628.60,218.44 L629.20,208.74 L629.80,219.08 L630.40,205.39 L631.00,219.57 L631.60,210.49 L632.20,218.01 L632.80,217.07 L633.40,211.22 L634.00,215.18 L634.60,206.11 L635.20,212.59 L635.80,220.15 L636.40,228.36 L637.00,217.70 L637.60,213.71 L638.20,206.55 L638.80,220.07 L639.40,202.39 L640.00,207.97 L640.60,215.55 L641.20,205.37 L641.80,223.28 L642.40,220.38 L643.00,209.57 L643.60,209.67 L644.20,204.71 L644.80,204.19 L645.40,216.22 L646.00,217.42 L646.60,215.66 L647.20,215.11 L647.80,209.74 L648.40,215.76 L649.00,203.83 L649.60,213.49 L650.20,223.07 L650.80,222.10 L651.40,210.46 L652.00,211.32 L652.60,222.50 L653.20,225.19 L653.80,203.79 L654.40,210.78 L655.00,215.10 L655.60,221.54 L656.20,208.14 L656.80,217.81 L657.40,211.68 L658.00,228.90 L658.60,216.47 L659.20,212.80 L659.80,211.51 L660.40,220.60 L661.00,218.16 L661.60,206.68 L662.20,215.18 L662.80,205.04 L663.40,208.86 L664.00,205.36 L664.60,205.17 L665.20,209.35 L665.80,207.46 L666.40,217.31 L667.00,219.08 L667.60,212.34 L668.20,206.61 L668.80,219.18 L669.40,200.73 L670.00,201.35 L670.60,218.72 L671.20,218.27 L671.80,220.36 L672.40,212.61 L673.00,205.80 L673.60,210.72 L674.20,217.76 L674.80,209.08 L675.40,209.51 L676.00,205.01 L676.60,206.53 L677.20,219.64 L677.80,217.12 L678.40,206.59 L679.00,207.13 L679.60,210.53 L680.20,217.79" fill="none" stroke="#0a0a0a" stroke-width="1.45" stroke-linejoin="round" /><line x1="564.70" x2="564.70" y1="0" y2="194" stroke="#a8101e" stroke-width="2.8"/><line x1="564.70" x2="564.70" y1="0" y2="194" stroke="#d40c16" stroke-width="1.4"/><line x1="391.75" x2="391.75" y1="0" y2="34" stroke="#1a50a0" stroke-width="1.2"/><line x1="391.75" x2="391.75" y1="31" y2="207" stroke="#a8101c" stroke-width="1.1"/></g>
<line x1="41.50" y1="3.60" x2="41.50" y2="238.20" stroke="#333333" stroke-width="1.05"/>
<line x1="330.50" y1="3.60" x2="330.50" y2="238.20" stroke="#333333" stroke-width="1.05"/>
<line x1="41.50" y1="4.30" x2="330.50" y2="4.30" stroke="#333333" stroke-width="1.4"/>
<line x1="41.50" y1="237.50" x2="330.50" y2="237.50" stroke="#333333" stroke-width="1.3"/>
<line x1="391.00" y1="4.40" x2="391.00" y2="238.50" stroke="#2e2e2e" stroke-width="1.05"/>
<line x1="680.50" y1="4.40" x2="680.50" y2="238.50" stroke="#2e2e2e" stroke-width="1.05"/>
<line x1="391.00" y1="4.90" x2="680.50" y2="4.90" stroke="#2e2e2e" stroke-width="1.05"/>
<line x1="391.00" y1="238.00" x2="680.50" y2="238.00" stroke="#2e2e2e" stroke-width="1.05"/>
<line x1="37.20" y1="237.50" x2="41.50" y2="237.50" stroke="#333333" stroke-width="1.1"/>
<line x1="330.50" y1="237.50" x2="334.80" y2="237.50" stroke="#333333" stroke-width="1.1"/>
<line x1="39.10" y1="221.82" x2="41.50" y2="221.82" stroke="#333333" stroke-width="1.0"/>
<line x1="330.50" y1="221.82" x2="332.90" y2="221.82" stroke="#333333" stroke-width="1.0"/>
<line x1="39.10" y1="212.65" x2="41.50" y2="212.65" stroke="#333333" stroke-width="1.0"/>
<line x1="330.50" y1="212.65" x2="332.90" y2="212.65" stroke="#333333" stroke-width="1.0"/>
<line x1="39.10" y1="206.15" x2="41.50" y2="206.15" stroke="#333333" stroke-width="1.0"/>
<line x1="330.50" y1="206.15" x2="332.90" y2="206.15" stroke="#333333" stroke-width="1.0"/>
<line x1="39.10" y1="201.10" x2="41.50" y2="201.10" stroke="#333333" stroke-width="1.0"/>
<line x1="330.50" y1="201.10" x2="332.90" y2="201.10" stroke="#333333" stroke-width="1.0"/>
<line x1="39.10" y1="196.98" x2="41.50" y2="196.98" stroke="#333333" stroke-width="1.0"/>
<line x1="330.50" y1="196.98" x2="332.90" y2="196.98" stroke="#333333" stroke-width="1.0"/>
<line x1="39.10" y1="193.49" x2="41.50" y2="193.49" stroke="#333333" stroke-width="1.0"/>
<line x1="330.50" y1="193.49" x2="332.90" y2="193.49" stroke="#333333" stroke-width="1.0"/>
<line x1="39.10" y1="190.47" x2="41.50" y2="190.47" stroke="#333333" stroke-width="1.0"/>
<line x1="330.50" y1="190.47" x2="332.90" y2="190.47" stroke="#333333" stroke-width="1.0"/>
<line x1="39.10" y1="187.81" x2="41.50" y2="187.81" stroke="#333333" stroke-width="1.0"/>
<line x1="330.50" y1="187.81" x2="332.90" y2="187.81" stroke="#333333" stroke-width="1.0"/>
<line x1="37.20" y1="185.43" x2="41.50" y2="185.43" stroke="#333333" stroke-width="1.1"/>
<line x1="330.50" y1="185.43" x2="334.80" y2="185.43" stroke="#333333" stroke-width="1.1"/>
<line x1="39.10" y1="169.75" x2="41.50" y2="169.75" stroke="#333333" stroke-width="1.0"/>
<line x1="330.50" y1="169.75" x2="332.90" y2="169.75" stroke="#333333" stroke-width="1.0"/>
<line x1="39.10" y1="160.58" x2="41.50" y2="160.58" stroke="#333333" stroke-width="1.0"/>
<line x1="330.50" y1="160.58" x2="332.90" y2="160.58" stroke="#333333" stroke-width="1.0"/>
<line x1="39.10" y1="154.07" x2="41.50" y2="154.07" stroke="#333333" stroke-width="1.0"/>
<line x1="330.50" y1="154.07" x2="332.90" y2="154.07" stroke="#333333" stroke-width="1.0"/>
<line x1="39.10" y1="149.03" x2="41.50" y2="149.03" stroke="#333333" stroke-width="1.0"/>
<line x1="330.50" y1="149.03" x2="332.90" y2="149.03" stroke="#333333" stroke-width="1.0"/>
<line x1="39.10" y1="144.90" x2="41.50" y2="144.90" stroke="#333333" stroke-width="1.0"/>
<line x1="330.50" y1="144.90" x2="332.90" y2="144.90" stroke="#333333" stroke-width="1.0"/>
<line x1="39.10" y1="141.42" x2="41.50" y2="141.42" stroke="#333333" stroke-width="1.0"/>
<line x1="330.50" y1="141.42" x2="332.90" y2="141.42" stroke="#333333" stroke-width="1.0"/>
<line x1="39.10" y1="138.40" x2="41.50" y2="138.40" stroke="#333333" stroke-width="1.0"/>
<line x1="330.50" y1="138.40" x2="332.90" y2="138.40" stroke="#333333" stroke-width="1.0"/>
<line x1="39.10" y1="135.73" x2="41.50" y2="135.73" stroke="#333333" stroke-width="1.0"/>
<line x1="330.50" y1="135.73" x2="332.90" y2="135.73" stroke="#333333" stroke-width="1.0"/>
<line x1="37.20" y1="133.35" x2="41.50" y2="133.35" stroke="#333333" stroke-width="1.1"/>
<line x1="330.50" y1="133.35" x2="334.80" y2="133.35" stroke="#333333" stroke-width="1.1"/>
<line x1="39.10" y1="117.67" x2="41.50" y2="117.67" stroke="#333333" stroke-width="1.0"/>
<line x1="330.50" y1="117.67" x2="332.90" y2="117.67" stroke="#333333" stroke-width="1.0"/>
<line x1="39.10" y1="108.50" x2="41.50" y2="108.50" stroke="#333333" stroke-width="1.0"/>
<line x1="330.50" y1="108.50" x2="332.90" y2="108.50" stroke="#333333" stroke-width="1.0"/>
<line x1="39.10" y1="102.00" x2="41.50" y2="102.00" stroke="#333333" stroke-width="1.0"/>
<line x1="330.50" y1="102.00" x2="332.90" y2="102.00" stroke="#333333" stroke-width="1.0"/>
<line x1="39.10" y1="96.95" x2="41.50" y2="96.95" stroke="#333333" stroke-width="1.0"/>
<line x1="330.50" y1="96.95" x2="332.90" y2="96.95" stroke="#333333" stroke-width="1.0"/>
<line x1="39.10" y1="92.83" x2="41.50" y2="92.83" stroke="#333333" stroke-width="1.0"/>
<line x1="330.50" y1="92.83" x2="332.90" y2="92.83" stroke="#333333" stroke-width="1.0"/>
<line x1="39.10" y1="89.34" x2="41.50" y2="89.34" stroke="#333333" stroke-width="1.0"/>
<line x1="330.50" y1="89.34" x2="332.90" y2="89.34" stroke="#333333" stroke-width="1.0"/>
<line x1="39.10" y1="86.32" x2="41.50" y2="86.32" stroke="#333333" stroke-width="1.0"/>
<line x1="330.50" y1="86.32" x2="332.90" y2="86.32" stroke="#333333" stroke-width="1.0"/>
<line x1="39.10" y1="83.66" x2="41.50" y2="83.66" stroke="#333333" stroke-width="1.0"/>
<line x1="330.50" y1="83.66" x2="332.90" y2="83.66" stroke="#333333" stroke-width="1.0"/>
<line x1="37.20" y1="81.27" x2="41.50" y2="81.27" stroke="#333333" stroke-width="1.1"/>
<line x1="330.50" y1="81.27" x2="334.80" y2="81.27" stroke="#333333" stroke-width="1.1"/>
<line x1="39.10" y1="65.60" x2="41.50" y2="65.60" stroke="#333333" stroke-width="1.0"/>
<line x1="330.50" y1="65.60" x2="332.90" y2="65.60" stroke="#333333" stroke-width="1.0"/>
<line x1="39.10" y1="56.43" x2="41.50" y2="56.43" stroke="#333333" stroke-width="1.0"/>
<line x1="330.50" y1="56.43" x2="332.90" y2="56.43" stroke="#333333" stroke-width="1.0"/>
<line x1="39.10" y1="49.92" x2="41.50" y2="49.92" stroke="#333333" stroke-width="1.0"/>
<line x1="330.50" y1="49.92" x2="332.90" y2="49.92" stroke="#333333" stroke-width="1.0"/>
<line x1="39.10" y1="44.88" x2="41.50" y2="44.88" stroke="#333333" stroke-width="1.0"/>
<line x1="330.50" y1="44.88" x2="332.90" y2="44.88" stroke="#333333" stroke-width="1.0"/>
<line x1="39.10" y1="40.75" x2="41.50" y2="40.75" stroke="#333333" stroke-width="1.0"/>
<line x1="330.50" y1="40.75" x2="332.90" y2="40.75" stroke="#333333" stroke-width="1.0"/>
<line x1="39.10" y1="37.27" x2="41.50" y2="37.27" stroke="#333333" stroke-width="1.0"/>
<line x1="330.50" y1="37.27" x2="332.90" y2="37.27" stroke="#333333" stroke-width="1.0"/>
<line x1="39.10" y1="34.25" x2="41.50" y2="34.25" stroke="#333333" stroke-width="1.0"/>
<line x1="330.50" y1="34.25" x2="332.90" y2="34.25" stroke="#333333" stroke-width="1.0"/>
<line x1="39.10" y1="31.58" x2="41.50" y2="31.58" stroke="#333333" stroke-width="1.0"/>
<line x1="330.50" y1="31.58" x2="332.90" y2="31.58" stroke="#333333" stroke-width="1.0"/>
<line x1="37.20" y1="29.20" x2="41.50" y2="29.20" stroke="#333333" stroke-width="1.1"/>
<line x1="330.50" y1="29.20" x2="334.80" y2="29.20" stroke="#333333" stroke-width="1.1"/>
<line x1="39.10" y1="13.52" x2="41.50" y2="13.52" stroke="#333333" stroke-width="1.0"/>
<line x1="330.50" y1="13.52" x2="332.90" y2="13.52" stroke="#333333" stroke-width="1.0"/>
<line x1="39.10" y1="4.35" x2="41.50" y2="4.35" stroke="#333333" stroke-width="1.0"/>
<line x1="330.50" y1="4.35" x2="332.90" y2="4.35" stroke="#333333" stroke-width="1.0"/>
<line x1="41.50" y1="237.50" x2="41.50" y2="241.80" stroke="#333333" stroke-width="1.1"/>
<line x1="41.50" y1="0.00" x2="41.50" y2="4.30" stroke="#333333" stroke-width="1.1"/>
<line x1="137.83" y1="237.50" x2="137.83" y2="239.90" stroke="#333333" stroke-width="1.1"/>
<line x1="137.83" y1="1.90" x2="137.83" y2="4.30" stroke="#333333" stroke-width="1.1"/>
<line x1="234.17" y1="237.50" x2="234.17" y2="241.80" stroke="#333333" stroke-width="1.1"/>
<line x1="234.17" y1="0.00" x2="234.17" y2="4.30" stroke="#333333" stroke-width="1.1"/>
<line x1="330.50" y1="237.50" x2="330.50" y2="239.90" stroke="#333333" stroke-width="1.1"/>
<line x1="330.50" y1="1.90" x2="330.50" y2="4.30" stroke="#333333" stroke-width="1.1"/>
<line x1="386.70" y1="4.90" x2="391.00" y2="4.90" stroke="#2e2e2e" stroke-width="1.0"/>
<line x1="680.50" y1="4.90" x2="684.80" y2="4.90" stroke="#2e2e2e" stroke-width="1.0"/>
<line x1="386.70" y1="144.00" x2="391.00" y2="144.00" stroke="#2e2e2e" stroke-width="1.0"/>
<line x1="680.50" y1="144.00" x2="684.80" y2="144.00" stroke="#2e2e2e" stroke-width="1.0"/>
<line x1="388.60" y1="122.86" x2="391.00" y2="122.86" stroke="#2e2e2e" stroke-width="1.0"/>
<line x1="680.50" y1="122.86" x2="682.90" y2="122.86" stroke="#2e2e2e" stroke-width="1.0"/>
<line x1="388.60" y1="103.73" x2="391.00" y2="103.73" stroke="#2e2e2e" stroke-width="1.0"/>
<line x1="680.50" y1="103.73" x2="682.90" y2="103.73" stroke="#2e2e2e" stroke-width="1.0"/>
<line x1="388.60" y1="86.27" x2="391.00" y2="86.27" stroke="#2e2e2e" stroke-width="1.0"/>
<line x1="680.50" y1="86.27" x2="682.90" y2="86.27" stroke="#2e2e2e" stroke-width="1.0"/>
<line x1="388.60" y1="70.21" x2="391.00" y2="70.21" stroke="#2e2e2e" stroke-width="1.0"/>
<line x1="680.50" y1="70.21" x2="682.90" y2="70.21" stroke="#2e2e2e" stroke-width="1.0"/>
<line x1="388.60" y1="55.33" x2="391.00" y2="55.33" stroke="#2e2e2e" stroke-width="1.0"/>
<line x1="680.50" y1="55.33" x2="682.90" y2="55.33" stroke="#2e2e2e" stroke-width="1.0"/>
<line x1="388.60" y1="41.49" x2="391.00" y2="41.49" stroke="#2e2e2e" stroke-width="1.0"/>
<line x1="680.50" y1="41.49" x2="682.90" y2="41.49" stroke="#2e2e2e" stroke-width="1.0"/>
<line x1="388.60" y1="28.54" x2="391.00" y2="28.54" stroke="#2e2e2e" stroke-width="1.0"/>
<line x1="680.50" y1="28.54" x2="682.90" y2="28.54" stroke="#2e2e2e" stroke-width="1.0"/>
<line x1="388.60" y1="16.37" x2="391.00" y2="16.37" stroke="#2e2e2e" stroke-width="1.0"/>
<line x1="680.50" y1="16.37" x2="682.90" y2="16.37" stroke="#2e2e2e" stroke-width="1.0"/>
<line x1="388.60" y1="167.64" x2="391.00" y2="167.64" stroke="#2e2e2e" stroke-width="1.0"/>
<line x1="680.50" y1="167.64" x2="682.90" y2="167.64" stroke="#2e2e2e" stroke-width="1.0"/>
<line x1="388.60" y1="194.43" x2="391.00" y2="194.43" stroke="#2e2e2e" stroke-width="1.0"/>
<line x1="680.50" y1="194.43" x2="682.90" y2="194.43" stroke="#2e2e2e" stroke-width="1.0"/>
<line x1="388.60" y1="225.37" x2="391.00" y2="225.37" stroke="#2e2e2e" stroke-width="1.0"/>
<line x1="680.50" y1="225.37" x2="682.90" y2="225.37" stroke="#2e2e2e" stroke-width="1.0"/>
<line x1="391.00" y1="238.00" x2="391.00" y2="242.30" stroke="#2e2e2e" stroke-width="1.0"/>
<line x1="391.00" y1="0.60" x2="391.00" y2="4.90" stroke="#2e2e2e" stroke-width="1.0"/>
<line x1="419.95" y1="238.00" x2="419.95" y2="240.40" stroke="#2e2e2e" stroke-width="1.0"/>
<line x1="419.95" y1="2.50" x2="419.95" y2="4.90" stroke="#2e2e2e" stroke-width="1.0"/>
<line x1="448.90" y1="238.00" x2="448.90" y2="242.30" stroke="#2e2e2e" stroke-width="1.0"/>
<line x1="448.90" y1="0.60" x2="448.90" y2="4.90" stroke="#2e2e2e" stroke-width="1.0"/>
<line x1="477.85" y1="238.00" x2="477.85" y2="240.40" stroke="#2e2e2e" stroke-width="1.0"/>
<line x1="477.85" y1="2.50" x2="477.85" y2="4.90" stroke="#2e2e2e" stroke-width="1.0"/>
<line x1="506.80" y1="238.00" x2="506.80" y2="242.30" stroke="#2e2e2e" stroke-width="1.0"/>
<line x1="506.80" y1="0.60" x2="506.80" y2="4.90" stroke="#2e2e2e" stroke-width="1.0"/>
<line x1="535.75" y1="238.00" x2="535.75" y2="240.40" stroke="#2e2e2e" stroke-width="1.0"/>
<line x1="535.75" y1="2.50" x2="535.75" y2="4.90" stroke="#2e2e2e" stroke-width="1.0"/>
<line x1="564.70" y1="238.00" x2="564.70" y2="242.30" stroke="#2e2e2e" stroke-width="1.0"/>
<line x1="564.70" y1="0.60" x2="564.70" y2="4.90" stroke="#2e2e2e" stroke-width="1.0"/>
<line x1="593.65" y1="238.00" x2="593.65" y2="240.40" stroke="#2e2e2e" stroke-width="1.0"/>
<line x1="593.65" y1="2.50" x2="593.65" y2="4.90" stroke="#2e2e2e" stroke-width="1.0"/>
<line x1="622.60" y1="238.00" x2="622.60" y2="242.30" stroke="#2e2e2e" stroke-width="1.0"/>
<line x1="622.60" y1="0.60" x2="622.60" y2="4.90" stroke="#2e2e2e" stroke-width="1.0"/>
<line x1="651.55" y1="238.00" x2="651.55" y2="240.40" stroke="#2e2e2e" stroke-width="1.0"/>
<line x1="651.55" y1="2.50" x2="651.55" y2="4.90" stroke="#2e2e2e" stroke-width="1.0"/>
<line x1="680.50" y1="238.00" x2="680.50" y2="242.30" stroke="#2e2e2e" stroke-width="1.0"/>
<line x1="680.50" y1="0.60" x2="680.50" y2="4.90" stroke="#2e2e2e" stroke-width="1.0"/>
<text class="s" x="29.0" y="241.40" font-size="9.4" text-anchor="end">10</text>
<text class="s" x="30.2" y="237.60" font-size="6.4">2</text>
<text class="s" x="29.0" y="189.33" font-size="9.4" text-anchor="end">10</text>
<text class="s" x="30.2" y="185.53" font-size="6.4">3</text>
<text class="s" x="29.0" y="137.25" font-size="9.4" text-anchor="end">10</text>
<text class="s" x="30.2" y="133.45" font-size="6.4">4</text>
<text class="s" x="29.0" y="85.17" font-size="9.4" text-anchor="end">10</text>
<text class="s" x="30.2" y="81.37" font-size="6.4">5</text>
<text class="s" x="29.0" y="33.10" font-size="9.4" text-anchor="end">10</text>
<text class="s" x="30.2" y="29.30" font-size="6.4">6</text>
<text class="s" x="41.30" y="253.3" font-size="9.4" text-anchor="middle" >0</text>
<text class="s" x="233.87" y="253.3" font-size="9.4" text-anchor="middle" textLength="17.2" lengthAdjust="spacingAndGlyphs">200</text>
<text class="s" x="359.0" y="9.00" font-size="9.4" textLength="20.0" lengthAdjust="spacingAndGlyphs">8×10</text>
<text class="s" x="379.3" y="5.00" font-size="6.8">2</text>
<text class="s" x="359.0" y="147.60" font-size="9.4" textLength="20.0" lengthAdjust="spacingAndGlyphs">4×10</text>
<text class="s" x="379.3" y="144.00" font-size="6.8">2</text>
<text class="s" x="389.75" y="252.4" font-size="9.4" text-anchor="middle" >0</text>
<text class="s" x="447.65" y="252.4" font-size="9.4" text-anchor="middle" textLength="11.0" lengthAdjust="spacingAndGlyphs">10</text>
<text class="s" x="505.55" y="252.4" font-size="9.4" text-anchor="middle" textLength="11.0" lengthAdjust="spacingAndGlyphs">20</text>
<text class="s" x="563.45" y="252.4" font-size="9.4" text-anchor="middle" textLength="11.0" lengthAdjust="spacingAndGlyphs">30</text>
<text class="s" x="621.35" y="252.4" font-size="9.4" text-anchor="middle" textLength="11.0" lengthAdjust="spacingAndGlyphs">40</text>
<text class="s" x="679.25" y="252.4" font-size="9.4" text-anchor="middle" textLength="11.0" lengthAdjust="spacingAndGlyphs">50</text>
<text x="185.9" y="278.6" font-size="16" text-anchor="middle" textLength="128" lengthAdjust="spacingAndGlyphs">Frequency (MHz)</text>
<text x="535.9" y="278.6" font-size="16" text-anchor="middle" textLength="128" lengthAdjust="spacingAndGlyphs">Frequency (MHz)</text>
<text transform="translate(13.3,120.4) rotate(-90)" font-size="16" text-anchor="middle" textLength="164.2" lengthAdjust="spacingAndGlyphs">Power spectrum (a.u.)</text>
<text transform="translate(354,121.25) rotate(-90)" font-size="16" text-anchor="middle" textLength="164" lengthAdjust="spacingAndGlyphs">Power spectrum (a.u.)</text>
<text x="135.6" y="27.1" font-size="12.6" text-anchor="start" textLength="34.6" lengthAdjust="spacingAndGlyphs">Pilot 1</text>
<text x="87.0" y="120.0" font-size="12.6" text-anchor="start" textLength="38" lengthAdjust="spacingAndGlyphs">Pilot 2</text>
<circle cx="52.1" cy="15.8" r="8.1" fill="#fff" stroke="#666" stroke-width="0.8"/>
<text x="52.3" y="20" font-size="16" text-anchor="middle">a</text>
<circle cx="406.8" cy="15.2" r="8.0" fill="#fff" stroke="#666" stroke-width="0.8"/>
<text x="406.3" y="20.5" font-size="15" text-anchor="middle">b</text>
<rect x="252.4" y="9.2" width="75.4" height="47.8" fill="#fff" stroke="#999" stroke-width="0.9"/>
<line x1="253.2" x2="274.5" y1="15.7" y2="15.7" stroke="#222" stroke-width="1.3"/>
<text x="276.2" y="18.7" font-size="8.6">BD1</text>
<line x1="253.2" x2="274.5" y1="27.7" y2="27.7" stroke="#c01818" stroke-width="1.3"/>
<text x="276.2" y="30.7" font-size="8.6">BD2</text>
<line x1="253.2" x2="274.5" y1="39.2" y2="39.2" stroke="#3ccc3c" stroke-width="1.3"/>
<text x="276.2" y="42.2" font-size="8.6">Vacuum BD1</text>
<line x1="253.2" x2="274.5" y1="49.8" y2="49.8" stroke="#2a70d0" stroke-width="1.3"/>
<text x="276.2" y="52.8" font-size="8.6">Vacuum BD2</text>
<rect x="598.2" y="9.0" width="81.8" height="58.9" fill="#fff" stroke="#999" stroke-width="0.9"/>
<line x1="599" x2="620.6" y1="16" y2="16" stroke="#22b022" stroke-width="1.3"/>
<text x="622.5" y="19.1" font-size="9">BD1</text>
<line x1="599" x2="620.6" y1="27.3" y2="27.3" stroke="#c02890" stroke-width="1.3"/>
<text x="622.5" y="30.400000000000002" font-size="9">BD2</text>
<line x1="599" x2="620.6" y1="39.4" y2="39.4" stroke="#3a80d0" stroke-width="1.3"/>
<text x="622.5" y="42.5" font-size="9">X Polarization</text>
<line x1="599" x2="620.6" y1="50.6" y2="50.6" stroke="#d02020" stroke-width="1.3"/>
<text x="622.5" y="53.7" font-size="9">Y Polarization</text>
<line x1="599" x2="620.6" y1="62.5" y2="62.5" stroke="#555" stroke-width="2.0"/>
<text x="622.5" y="65.6" font-size="9">Vacuum</text>
</svg>
</body></html>
